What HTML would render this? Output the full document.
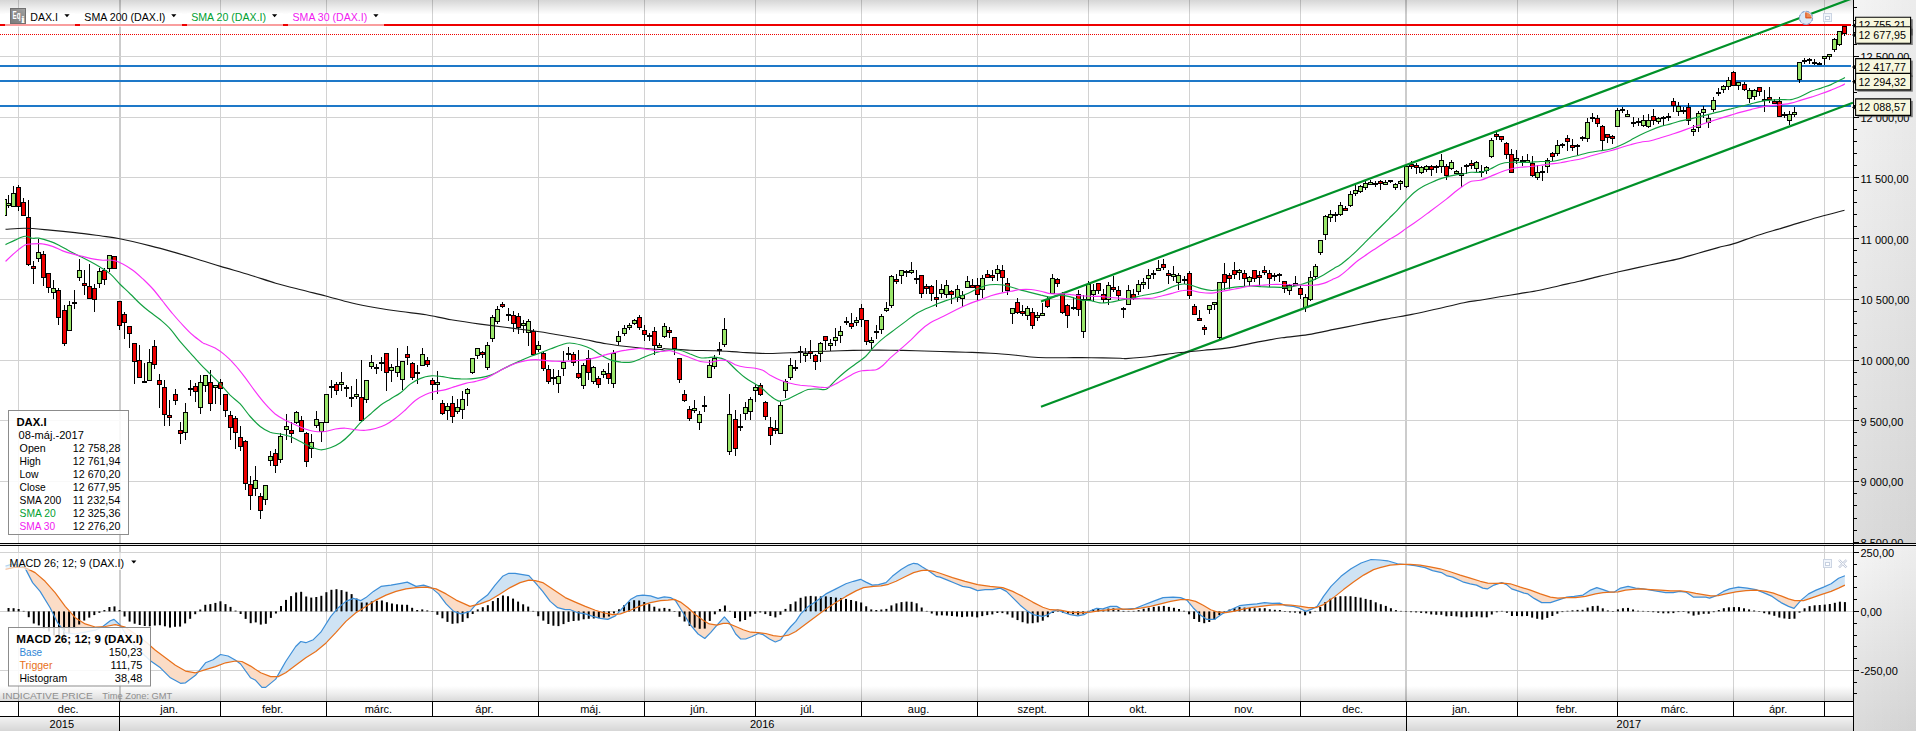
<!DOCTYPE html>
<html><head><meta charset="utf-8"><title>DAX.I</title>
<style>html,body{margin:0;padding:0;background:#fff;overflow:hidden}svg{display:block}</style></head>
<body>
<svg width="1916" height="731" viewBox="0 0 1916 731" font-family='"Liberation Sans", sans-serif' font-size="11">
<defs>
<linearGradient id="gtop" x1="0" y1="0" x2="0" y2="1"><stop offset="0" stop-color="#d6d6d6"/><stop offset="0.45" stop-color="#e9e9e9"/><stop offset="1" stop-color="#ffffff"/></linearGradient>
<linearGradient id="gbot" x1="0" y1="0" x2="0" y2="1"><stop offset="0" stop-color="#ffffff"/><stop offset="0.5" stop-color="#eeeeee"/><stop offset="1" stop-color="#dadada"/></linearGradient>
<linearGradient id="gyr" x1="0" y1="0" x2="0" y2="1"><stop offset="0" stop-color="#f2f2f2"/><stop offset="1" stop-color="#d6d6d6"/></linearGradient>
<linearGradient id="gax" x1="0" y1="0" x2="0" y2="1"><stop offset="0" stop-color="#f4f4f4"/><stop offset="0.3" stop-color="#efefef"/><stop offset="1" stop-color="#dcdcdc"/></linearGradient>
<linearGradient id="gax2" x1="0" y1="0" x2="0" y2="1"><stop offset="0" stop-color="#f6f6f6"/><stop offset="1" stop-color="#dadada"/></linearGradient>
<linearGradient id="gaxh" x1="0" y1="0" x2="1" y2="0"><stop offset="0" stop-color="#000" stop-opacity="0"/><stop offset="1" stop-color="#000" stop-opacity="0.035"/></linearGradient>
<clipPath id="cmain"><rect x="5" y="0" width="1848" height="543"/></clipPath>
<clipPath id="cmacd"><rect x="5" y="546" width="1848" height="155"/></clipPath>
</defs>
<rect x="0" y="0" width="1916" height="731" fill="#ffffff"/>
<rect x="0" y="0" width="1853" height="14.5" fill="url(#gtop)"/>
<rect x="0" y="686" width="1853" height="15" fill="url(#gbot)"/>
<rect x="1853" y="0" width="63" height="543" fill="url(#gax)"/>
<rect x="1853" y="546" width="63" height="185" fill="url(#gax2)"/>
<rect x="1853" y="0" width="63" height="731" fill="url(#gaxh)"/>
<g shape-rendering="crispEdges"><rect x="18" y="0" width="1" height="701" fill="#000" fill-opacity="0.175"/><rect x="119" y="0" width="2" height="701" fill="#000" fill-opacity="0.2"/><rect x="220" y="0" width="1" height="701" fill="#000" fill-opacity="0.175"/><rect x="326" y="0" width="1" height="701" fill="#000" fill-opacity="0.175"/><rect x="432" y="0" width="1" height="701" fill="#000" fill-opacity="0.175"/><rect x="538" y="0" width="1" height="701" fill="#000" fill-opacity="0.175"/><rect x="644" y="0" width="1" height="701" fill="#000" fill-opacity="0.175"/><rect x="755" y="0" width="1" height="701" fill="#000" fill-opacity="0.175"/><rect x="861" y="0" width="1" height="701" fill="#000" fill-opacity="0.175"/><rect x="977" y="0" width="1" height="701" fill="#000" fill-opacity="0.175"/><rect x="1088" y="0" width="1" height="701" fill="#000" fill-opacity="0.175"/><rect x="1189" y="0" width="1" height="701" fill="#000" fill-opacity="0.175"/><rect x="1300" y="0" width="1" height="701" fill="#000" fill-opacity="0.175"/><rect x="1405" y="0" width="2" height="701" fill="#000" fill-opacity="0.2"/><rect x="1517" y="0" width="1" height="701" fill="#000" fill-opacity="0.175"/><rect x="1617" y="0" width="1" height="701" fill="#000" fill-opacity="0.175"/><rect x="1733" y="0" width="1" height="701" fill="#000" fill-opacity="0.175"/><rect x="1824" y="0" width="1" height="701" fill="#000" fill-opacity="0.175"/><rect x="0" y="56" width="1853" height="1" fill="#d2d2d2"/><rect x="0" y="117" width="1853" height="1" fill="#d2d2d2"/><rect x="0" y="177" width="1853" height="1" fill="#d2d2d2"/><rect x="0" y="238" width="1853" height="1" fill="#d2d2d2"/><rect x="0" y="299" width="1853" height="1" fill="#d2d2d2"/><rect x="0" y="360" width="1853" height="1" fill="#d2d2d2"/><rect x="0" y="420" width="1853" height="1" fill="#d2d2d2"/><rect x="0" y="481" width="1853" height="1" fill="#d2d2d2"/><rect x="0" y="552" width="1853" height="1" fill="#d2d2d2"/><rect x="0" y="611" width="1853" height="1" fill="#d2d2d2"/><rect x="0" y="670" width="1853" height="1" fill="#d2d2d2"/></g>
<g shape-rendering="crispEdges">
<rect x="0" y="24" width="1851" height="2" fill="#ee0000"/>
<rect x="0" y="65" width="1851" height="2" fill="#1e78c8"/>
<rect x="0" y="80" width="1851" height="2" fill="#1e78c8"/>
<rect x="0" y="105" width="1851" height="2" fill="#1e78c8"/>
</g>
<line x1="0" y1="34.5" x2="1851" y2="34.5" stroke="#ee0000" stroke-width="1" stroke-dasharray="1 1" shape-rendering="crispEdges"/>
<g clip-path="url(#cmain)">
<g shape-rendering="crispEdges"><rect x="4" y="199" width="1" height="17" fill="#000"/><rect x="2" y="199" width="5" height="17" fill="#000"/><rect x="3" y="200" width="3" height="15" fill="#9ae66a"/><rect x="8" y="195" width="1" height="13" fill="#000"/><rect x="6" y="203" width="5" height="3" fill="#000"/><rect x="7" y="204" width="3" height="1" fill="#9ae66a"/><rect x="13" y="186" width="1" height="21" fill="#000"/><rect x="11" y="193" width="5" height="14" fill="#000"/><rect x="12" y="194" width="3" height="12" fill="#9ae66a"/><rect x="18" y="185" width="1" height="26" fill="#000"/><rect x="16" y="187" width="5" height="20" fill="#000"/><rect x="17" y="188" width="3" height="18" fill="#ee0000"/><rect x="23" y="198" width="1" height="18" fill="#000"/><rect x="21" y="202" width="5" height="14" fill="#000"/><rect x="22" y="203" width="3" height="12" fill="#ee0000"/><rect x="28" y="200" width="1" height="66" fill="#000"/><rect x="26" y="217" width="5" height="48" fill="#000"/><rect x="27" y="218" width="3" height="46" fill="#ee0000"/><rect x="33" y="261" width="1" height="23" fill="#000"/><rect x="31" y="266" width="5" height="3" fill="#000"/><rect x="32" y="267" width="3" height="1" fill="#ee0000"/><rect x="38" y="239" width="1" height="23" fill="#000"/><rect x="36" y="252" width="5" height="7" fill="#000"/><rect x="37" y="253" width="3" height="5" fill="#9ae66a"/><rect x="43" y="251" width="1" height="35" fill="#000"/><rect x="41" y="254" width="5" height="24" fill="#000"/><rect x="42" y="255" width="3" height="22" fill="#ee0000"/><rect x="48" y="273" width="1" height="20" fill="#000"/><rect x="46" y="273" width="5" height="15" fill="#000"/><rect x="47" y="274" width="3" height="13" fill="#ee0000"/><rect x="53" y="280" width="1" height="19" fill="#000"/><rect x="51" y="288" width="5" height="5" fill="#000"/><rect x="52" y="289" width="3" height="3" fill="#9ae66a"/><rect x="58" y="288" width="1" height="37" fill="#000"/><rect x="56" y="290" width="5" height="28" fill="#000"/><rect x="57" y="291" width="3" height="26" fill="#ee0000"/><rect x="64" y="305" width="1" height="41" fill="#000"/><rect x="62" y="310" width="5" height="34" fill="#000"/><rect x="63" y="311" width="3" height="32" fill="#ee0000"/><rect x="69" y="301" width="1" height="30" fill="#000"/><rect x="67" y="305" width="5" height="26" fill="#000"/><rect x="68" y="306" width="3" height="24" fill="#9ae66a"/><rect x="74" y="290" width="1" height="19" fill="#000"/><rect x="72" y="302" width="5" height="2" fill="#000"/><rect x="79" y="259" width="1" height="22" fill="#000"/><rect x="77" y="270" width="5" height="8" fill="#000"/><rect x="78" y="271" width="3" height="6" fill="#9ae66a"/><rect x="84" y="270" width="1" height="25" fill="#000"/><rect x="82" y="283" width="5" height="3" fill="#000"/><rect x="83" y="284" width="3" height="1" fill="#ee0000"/><rect x="89" y="264" width="1" height="35" fill="#000"/><rect x="87" y="286" width="5" height="13" fill="#000"/><rect x="88" y="287" width="3" height="11" fill="#ee0000"/><rect x="94" y="284" width="1" height="28" fill="#000"/><rect x="92" y="288" width="5" height="12" fill="#000"/><rect x="93" y="289" width="3" height="10" fill="#ee0000"/><rect x="99" y="268" width="1" height="20" fill="#000"/><rect x="97" y="271" width="5" height="13" fill="#000"/><rect x="98" y="272" width="3" height="11" fill="#9ae66a"/><rect x="104" y="268" width="1" height="17" fill="#000"/><rect x="102" y="270" width="5" height="10" fill="#000"/><rect x="103" y="271" width="3" height="8" fill="#ee0000"/><rect x="109" y="255" width="1" height="17" fill="#000"/><rect x="107" y="255" width="5" height="14" fill="#000"/><rect x="108" y="256" width="3" height="12" fill="#9ae66a"/><rect x="114" y="256" width="1" height="13" fill="#000"/><rect x="112" y="256" width="5" height="13" fill="#000"/><rect x="113" y="257" width="3" height="11" fill="#ee0000"/><rect x="119" y="301" width="1" height="29" fill="#000"/><rect x="117" y="301" width="5" height="25" fill="#000"/><rect x="118" y="302" width="3" height="23" fill="#ee0000"/><rect x="124" y="312" width="1" height="27" fill="#000"/><rect x="122" y="314" width="5" height="9" fill="#000"/><rect x="123" y="315" width="3" height="7" fill="#ee0000"/><rect x="129" y="326" width="1" height="22" fill="#000"/><rect x="127" y="326" width="5" height="8" fill="#000"/><rect x="128" y="327" width="3" height="6" fill="#ee0000"/><rect x="134" y="343" width="1" height="41" fill="#000"/><rect x="132" y="343" width="5" height="19" fill="#000"/><rect x="133" y="344" width="3" height="17" fill="#ee0000"/><rect x="139" y="345" width="1" height="33" fill="#000"/><rect x="137" y="360" width="5" height="18" fill="#000"/><rect x="138" y="361" width="3" height="16" fill="#ee0000"/><rect x="144" y="363" width="1" height="20" fill="#000"/><rect x="142" y="381" width="5" height="2" fill="#000"/><rect x="149" y="349" width="1" height="32" fill="#000"/><rect x="147" y="362" width="5" height="19" fill="#000"/><rect x="148" y="363" width="3" height="17" fill="#9ae66a"/><rect x="154" y="340" width="1" height="29" fill="#000"/><rect x="152" y="346" width="5" height="19" fill="#000"/><rect x="153" y="347" width="3" height="17" fill="#ee0000"/><rect x="159" y="374" width="1" height="34" fill="#000"/><rect x="157" y="380" width="5" height="5" fill="#000"/><rect x="158" y="381" width="3" height="3" fill="#ee0000"/><rect x="164" y="380" width="1" height="46" fill="#000"/><rect x="162" y="387" width="5" height="28" fill="#000"/><rect x="163" y="388" width="3" height="26" fill="#ee0000"/><rect x="169" y="400" width="1" height="26" fill="#000"/><rect x="167" y="415" width="5" height="3" fill="#000"/><rect x="168" y="416" width="3" height="1" fill="#ee0000"/><rect x="175" y="389" width="1" height="16" fill="#000"/><rect x="173" y="394" width="5" height="7" fill="#000"/><rect x="174" y="395" width="3" height="5" fill="#ee0000"/><rect x="180" y="422" width="1" height="22" fill="#000"/><rect x="178" y="430" width="5" height="4" fill="#000"/><rect x="179" y="431" width="3" height="2" fill="#ee0000"/><rect x="185" y="403" width="1" height="37" fill="#000"/><rect x="183" y="412" width="5" height="21" fill="#000"/><rect x="184" y="413" width="3" height="19" fill="#9ae66a"/><rect x="190" y="380" width="1" height="16" fill="#000"/><rect x="188" y="388" width="5" height="2" fill="#000"/><rect x="195" y="383" width="1" height="19" fill="#000"/><rect x="193" y="386" width="5" height="6" fill="#000"/><rect x="194" y="387" width="3" height="4" fill="#ee0000"/><rect x="200" y="375" width="1" height="39" fill="#000"/><rect x="198" y="382" width="5" height="26" fill="#000"/><rect x="199" y="383" width="3" height="24" fill="#9ae66a"/><rect x="205" y="375" width="1" height="17" fill="#000"/><rect x="203" y="375" width="5" height="11" fill="#000"/><rect x="204" y="376" width="3" height="9" fill="#9ae66a"/><rect x="210" y="370" width="1" height="41" fill="#000"/><rect x="208" y="382" width="5" height="22" fill="#000"/><rect x="209" y="383" width="3" height="20" fill="#ee0000"/><rect x="215" y="385" width="1" height="19" fill="#000"/><rect x="213" y="385" width="5" height="3" fill="#000"/><rect x="214" y="386" width="3" height="1" fill="#9ae66a"/><rect x="220" y="379" width="1" height="26" fill="#000"/><rect x="218" y="382" width="5" height="7" fill="#000"/><rect x="219" y="383" width="3" height="5" fill="#ee0000"/><rect x="225" y="394" width="1" height="23" fill="#000"/><rect x="223" y="394" width="5" height="17" fill="#000"/><rect x="224" y="395" width="3" height="15" fill="#ee0000"/><rect x="230" y="411" width="1" height="29" fill="#000"/><rect x="228" y="415" width="5" height="13" fill="#000"/><rect x="229" y="416" width="3" height="11" fill="#ee0000"/><rect x="235" y="416" width="1" height="33" fill="#000"/><rect x="233" y="418" width="5" height="15" fill="#000"/><rect x="234" y="419" width="3" height="13" fill="#ee0000"/><rect x="240" y="426" width="1" height="25" fill="#000"/><rect x="238" y="437" width="5" height="10" fill="#000"/><rect x="239" y="438" width="3" height="8" fill="#ee0000"/><rect x="245" y="440" width="1" height="50" fill="#000"/><rect x="243" y="441" width="5" height="43" fill="#000"/><rect x="244" y="442" width="3" height="41" fill="#ee0000"/><rect x="250" y="476" width="1" height="34" fill="#000"/><rect x="248" y="484" width="5" height="12" fill="#000"/><rect x="249" y="485" width="3" height="10" fill="#ee0000"/><rect x="255" y="466" width="1" height="30" fill="#000"/><rect x="253" y="480" width="5" height="9" fill="#000"/><rect x="254" y="481" width="3" height="7" fill="#9ae66a"/><rect x="260" y="493" width="1" height="26" fill="#000"/><rect x="258" y="496" width="5" height="15" fill="#000"/><rect x="259" y="497" width="3" height="13" fill="#ee0000"/><rect x="265" y="485" width="1" height="20" fill="#000"/><rect x="263" y="485" width="5" height="15" fill="#000"/><rect x="264" y="486" width="3" height="13" fill="#9ae66a"/><rect x="270" y="451" width="1" height="15" fill="#000"/><rect x="268" y="456" width="5" height="5" fill="#000"/><rect x="269" y="457" width="3" height="3" fill="#9ae66a"/><rect x="275" y="449" width="1" height="24" fill="#000"/><rect x="273" y="453" width="5" height="13" fill="#000"/><rect x="274" y="454" width="3" height="11" fill="#ee0000"/><rect x="280" y="433" width="1" height="30" fill="#000"/><rect x="278" y="436" width="5" height="24" fill="#000"/><rect x="279" y="437" width="3" height="22" fill="#9ae66a"/><rect x="286" y="414" width="1" height="26" fill="#000"/><rect x="284" y="426" width="5" height="4" fill="#000"/><rect x="285" y="427" width="3" height="2" fill="#9ae66a"/><rect x="291" y="422" width="1" height="21" fill="#000"/><rect x="289" y="430" width="5" height="4" fill="#000"/><rect x="290" y="431" width="3" height="2" fill="#ee0000"/><rect x="296" y="411" width="1" height="13" fill="#000"/><rect x="294" y="412" width="5" height="11" fill="#000"/><rect x="295" y="413" width="3" height="9" fill="#9ae66a"/><rect x="301" y="416" width="1" height="16" fill="#000"/><rect x="299" y="420" width="5" height="12" fill="#000"/><rect x="300" y="421" width="3" height="10" fill="#ee0000"/><rect x="306" y="432" width="1" height="35" fill="#000"/><rect x="304" y="433" width="5" height="29" fill="#000"/><rect x="305" y="434" width="3" height="27" fill="#ee0000"/><rect x="311" y="434" width="1" height="24" fill="#000"/><rect x="309" y="442" width="5" height="7" fill="#000"/><rect x="310" y="443" width="3" height="5" fill="#9ae66a"/><rect x="316" y="411" width="1" height="17" fill="#000"/><rect x="314" y="419" width="5" height="7" fill="#000"/><rect x="315" y="420" width="3" height="5" fill="#9ae66a"/><rect x="321" y="422" width="1" height="20" fill="#000"/><rect x="319" y="422" width="5" height="10" fill="#000"/><rect x="320" y="423" width="3" height="8" fill="#9ae66a"/><rect x="326" y="394" width="1" height="29" fill="#000"/><rect x="324" y="394" width="5" height="29" fill="#000"/><rect x="325" y="395" width="3" height="27" fill="#9ae66a"/><rect x="331" y="380" width="1" height="18" fill="#000"/><rect x="329" y="386" width="5" height="2" fill="#000"/><rect x="336" y="382" width="1" height="13" fill="#000"/><rect x="334" y="384" width="5" height="7" fill="#000"/><rect x="335" y="385" width="3" height="5" fill="#ee0000"/><rect x="341" y="372" width="1" height="19" fill="#000"/><rect x="339" y="382" width="5" height="3" fill="#000"/><rect x="340" y="383" width="3" height="1" fill="#9ae66a"/><rect x="346" y="385" width="1" height="12" fill="#000"/><rect x="344" y="387" width="5" height="2" fill="#000"/><rect x="351" y="386" width="1" height="21" fill="#000"/><rect x="349" y="397" width="5" height="2" fill="#000"/><rect x="356" y="379" width="1" height="20" fill="#000"/><rect x="354" y="394" width="5" height="3" fill="#000"/><rect x="355" y="395" width="3" height="1" fill="#9ae66a"/><rect x="361" y="360" width="1" height="61" fill="#000"/><rect x="359" y="397" width="5" height="24" fill="#000"/><rect x="360" y="398" width="3" height="22" fill="#ee0000"/><rect x="366" y="380" width="1" height="23" fill="#000"/><rect x="364" y="380" width="5" height="20" fill="#000"/><rect x="365" y="381" width="3" height="18" fill="#9ae66a"/><rect x="371" y="355" width="1" height="14" fill="#000"/><rect x="369" y="362" width="5" height="5" fill="#000"/><rect x="370" y="363" width="3" height="3" fill="#9ae66a"/><rect x="376" y="364" width="1" height="10" fill="#000"/><rect x="374" y="367" width="5" height="2" fill="#000"/><rect x="381" y="357" width="1" height="14" fill="#000"/><rect x="379" y="362" width="5" height="2" fill="#000"/><rect x="386" y="353" width="1" height="38" fill="#000"/><rect x="384" y="353" width="5" height="20" fill="#000"/><rect x="385" y="354" width="3" height="18" fill="#ee0000"/><rect x="391" y="364" width="1" height="18" fill="#000"/><rect x="389" y="367" width="5" height="4" fill="#000"/><rect x="390" y="368" width="3" height="2" fill="#9ae66a"/><rect x="397" y="348" width="1" height="29" fill="#000"/><rect x="395" y="366" width="5" height="7" fill="#000"/><rect x="396" y="367" width="3" height="5" fill="#9ae66a"/><rect x="402" y="361" width="1" height="29" fill="#000"/><rect x="400" y="361" width="5" height="19" fill="#000"/><rect x="401" y="362" width="3" height="17" fill="#9ae66a"/><rect x="407" y="346" width="1" height="19" fill="#000"/><rect x="405" y="354" width="5" height="4" fill="#000"/><rect x="406" y="355" width="3" height="2" fill="#ee0000"/><rect x="412" y="362" width="1" height="18" fill="#000"/><rect x="410" y="363" width="5" height="15" fill="#000"/><rect x="411" y="364" width="3" height="13" fill="#ee0000"/><rect x="417" y="365" width="1" height="19" fill="#000"/><rect x="415" y="372" width="5" height="2" fill="#000"/><rect x="422" y="348" width="1" height="18" fill="#000"/><rect x="420" y="354" width="5" height="12" fill="#000"/><rect x="421" y="355" width="3" height="10" fill="#9ae66a"/><rect x="427" y="357" width="1" height="10" fill="#000"/><rect x="425" y="360" width="5" height="5" fill="#000"/><rect x="426" y="361" width="3" height="3" fill="#ee0000"/><rect x="432" y="378" width="1" height="22" fill="#000"/><rect x="430" y="380" width="5" height="5" fill="#000"/><rect x="431" y="381" width="3" height="3" fill="#ee0000"/><rect x="437" y="371" width="1" height="23" fill="#000"/><rect x="435" y="382" width="5" height="3" fill="#000"/><rect x="436" y="383" width="3" height="1" fill="#9ae66a"/><rect x="442" y="400" width="1" height="15" fill="#000"/><rect x="440" y="403" width="5" height="11" fill="#000"/><rect x="441" y="404" width="3" height="9" fill="#ee0000"/><rect x="447" y="403" width="1" height="17" fill="#000"/><rect x="445" y="406" width="5" height="5" fill="#000"/><rect x="446" y="407" width="3" height="3" fill="#9ae66a"/><rect x="452" y="396" width="1" height="27" fill="#000"/><rect x="450" y="403" width="5" height="14" fill="#000"/><rect x="451" y="404" width="3" height="12" fill="#ee0000"/><rect x="457" y="399" width="1" height="15" fill="#000"/><rect x="455" y="407" width="5" height="5" fill="#000"/><rect x="456" y="408" width="3" height="3" fill="#9ae66a"/><rect x="462" y="391" width="1" height="28" fill="#000"/><rect x="460" y="399" width="5" height="11" fill="#000"/><rect x="461" y="400" width="3" height="9" fill="#9ae66a"/><rect x="467" y="388" width="1" height="18" fill="#000"/><rect x="465" y="389" width="5" height="5" fill="#000"/><rect x="466" y="390" width="3" height="3" fill="#9ae66a"/><rect x="472" y="358" width="1" height="16" fill="#000"/><rect x="470" y="358" width="5" height="15" fill="#000"/><rect x="471" y="359" width="3" height="13" fill="#9ae66a"/><rect x="477" y="348" width="1" height="11" fill="#000"/><rect x="475" y="348" width="5" height="8" fill="#000"/><rect x="476" y="349" width="3" height="6" fill="#9ae66a"/><rect x="482" y="351" width="1" height="7" fill="#000"/><rect x="480" y="352" width="5" height="3" fill="#000"/><rect x="481" y="353" width="3" height="1" fill="#ee0000"/><rect x="487" y="342" width="1" height="28" fill="#000"/><rect x="485" y="345" width="5" height="23" fill="#000"/><rect x="486" y="346" width="3" height="21" fill="#9ae66a"/><rect x="492" y="315" width="1" height="27" fill="#000"/><rect x="490" y="317" width="5" height="22" fill="#000"/><rect x="491" y="318" width="3" height="20" fill="#9ae66a"/><rect x="497" y="306" width="1" height="18" fill="#000"/><rect x="495" y="309" width="5" height="13" fill="#000"/><rect x="496" y="310" width="3" height="11" fill="#9ae66a"/><rect x="502" y="302" width="1" height="6" fill="#000"/><rect x="500" y="304" width="5" height="3" fill="#000"/><rect x="501" y="305" width="3" height="1" fill="#ee0000"/><rect x="508" y="308" width="1" height="13" fill="#000"/><rect x="506" y="314" width="5" height="2" fill="#000"/><rect x="513" y="311" width="1" height="21" fill="#000"/><rect x="511" y="315" width="5" height="9" fill="#000"/><rect x="512" y="316" width="3" height="7" fill="#ee0000"/><rect x="518" y="313" width="1" height="21" fill="#000"/><rect x="516" y="316" width="5" height="12" fill="#000"/><rect x="517" y="317" width="3" height="10" fill="#ee0000"/><rect x="523" y="320" width="1" height="13" fill="#000"/><rect x="521" y="323" width="5" height="3" fill="#000"/><rect x="522" y="324" width="3" height="1" fill="#9ae66a"/><rect x="528" y="319" width="1" height="27" fill="#000"/><rect x="526" y="321" width="5" height="12" fill="#000"/><rect x="527" y="322" width="3" height="10" fill="#9ae66a"/><rect x="533" y="329" width="1" height="27" fill="#000"/><rect x="531" y="331" width="5" height="24" fill="#000"/><rect x="532" y="332" width="3" height="22" fill="#ee0000"/><rect x="538" y="341" width="1" height="11" fill="#000"/><rect x="536" y="345" width="5" height="5" fill="#000"/><rect x="537" y="346" width="3" height="3" fill="#9ae66a"/><rect x="543" y="352" width="1" height="19" fill="#000"/><rect x="541" y="353" width="5" height="16" fill="#000"/><rect x="542" y="354" width="3" height="14" fill="#ee0000"/><rect x="548" y="365" width="1" height="19" fill="#000"/><rect x="546" y="369" width="5" height="13" fill="#000"/><rect x="547" y="370" width="3" height="11" fill="#ee0000"/><rect x="553" y="369" width="1" height="16" fill="#000"/><rect x="551" y="377" width="5" height="2" fill="#000"/><rect x="558" y="370" width="1" height="23" fill="#000"/><rect x="556" y="376" width="5" height="8" fill="#000"/><rect x="557" y="377" width="3" height="6" fill="#9ae66a"/><rect x="563" y="351" width="1" height="25" fill="#000"/><rect x="561" y="362" width="5" height="7" fill="#000"/><rect x="562" y="363" width="3" height="5" fill="#9ae66a"/><rect x="568" y="347" width="1" height="13" fill="#000"/><rect x="566" y="353" width="5" height="2" fill="#000"/><rect x="573" y="352" width="1" height="14" fill="#000"/><rect x="571" y="354" width="5" height="9" fill="#000"/><rect x="572" y="355" width="3" height="7" fill="#ee0000"/><rect x="578" y="350" width="1" height="29" fill="#000"/><rect x="576" y="373" width="5" height="5" fill="#000"/><rect x="577" y="374" width="3" height="3" fill="#ee0000"/><rect x="583" y="363" width="1" height="26" fill="#000"/><rect x="581" y="365" width="5" height="21" fill="#000"/><rect x="582" y="366" width="3" height="19" fill="#9ae66a"/><rect x="588" y="350" width="1" height="30" fill="#000"/><rect x="586" y="358" width="5" height="15" fill="#000"/><rect x="587" y="359" width="3" height="13" fill="#ee0000"/><rect x="593" y="366" width="1" height="18" fill="#000"/><rect x="591" y="367" width="5" height="15" fill="#000"/><rect x="592" y="368" width="3" height="13" fill="#9ae66a"/><rect x="598" y="376" width="1" height="12" fill="#000"/><rect x="596" y="378" width="5" height="7" fill="#000"/><rect x="597" y="379" width="3" height="5" fill="#ee0000"/><rect x="603" y="369" width="1" height="9" fill="#000"/><rect x="601" y="371" width="5" height="4" fill="#000"/><rect x="602" y="372" width="3" height="2" fill="#9ae66a"/><rect x="608" y="363" width="1" height="21" fill="#000"/><rect x="606" y="373" width="5" height="6" fill="#000"/><rect x="607" y="374" width="3" height="4" fill="#ee0000"/><rect x="613" y="350" width="1" height="38" fill="#000"/><rect x="611" y="353" width="5" height="31" fill="#000"/><rect x="612" y="354" width="3" height="29" fill="#9ae66a"/><rect x="618" y="331" width="1" height="14" fill="#000"/><rect x="616" y="336" width="5" height="6" fill="#000"/><rect x="617" y="337" width="3" height="4" fill="#9ae66a"/><rect x="624" y="325" width="1" height="11" fill="#000"/><rect x="622" y="328" width="5" height="6" fill="#000"/><rect x="623" y="329" width="3" height="4" fill="#9ae66a"/><rect x="629" y="323" width="1" height="7" fill="#000"/><rect x="627" y="325" width="5" height="3" fill="#000"/><rect x="628" y="326" width="3" height="1" fill="#9ae66a"/><rect x="634" y="319" width="1" height="6" fill="#000"/><rect x="632" y="320" width="5" height="4" fill="#000"/><rect x="633" y="321" width="3" height="2" fill="#9ae66a"/><rect x="639" y="315" width="1" height="15" fill="#000"/><rect x="637" y="317" width="5" height="11" fill="#000"/><rect x="638" y="318" width="3" height="9" fill="#ee0000"/><rect x="644" y="325" width="1" height="16" fill="#000"/><rect x="642" y="330" width="5" height="5" fill="#000"/><rect x="643" y="331" width="3" height="3" fill="#ee0000"/><rect x="649" y="333" width="1" height="8" fill="#000"/><rect x="647" y="335" width="5" height="2" fill="#000"/><rect x="654" y="327" width="1" height="28" fill="#000"/><rect x="652" y="331" width="5" height="15" fill="#000"/><rect x="653" y="332" width="3" height="13" fill="#ee0000"/><rect x="659" y="343" width="1" height="5" fill="#000"/><rect x="657" y="345" width="5" height="3" fill="#000"/><rect x="658" y="346" width="3" height="1" fill="#9ae66a"/><rect x="664" y="323" width="1" height="15" fill="#000"/><rect x="662" y="326" width="5" height="11" fill="#000"/><rect x="663" y="327" width="3" height="9" fill="#9ae66a"/><rect x="669" y="327" width="1" height="11" fill="#000"/><rect x="667" y="330" width="5" height="3" fill="#000"/><rect x="668" y="331" width="3" height="1" fill="#ee0000"/><rect x="674" y="337" width="1" height="18" fill="#000"/><rect x="672" y="337" width="5" height="12" fill="#000"/><rect x="673" y="338" width="3" height="10" fill="#ee0000"/><rect x="679" y="358" width="1" height="25" fill="#000"/><rect x="677" y="358" width="5" height="22" fill="#000"/><rect x="678" y="359" width="3" height="20" fill="#ee0000"/><rect x="684" y="390" width="1" height="12" fill="#000"/><rect x="682" y="394" width="5" height="7" fill="#000"/><rect x="683" y="395" width="3" height="5" fill="#ee0000"/><rect x="689" y="406" width="1" height="15" fill="#000"/><rect x="687" y="409" width="5" height="10" fill="#000"/><rect x="688" y="410" width="3" height="8" fill="#ee0000"/><rect x="694" y="400" width="1" height="13" fill="#000"/><rect x="692" y="408" width="5" height="3" fill="#000"/><rect x="693" y="409" width="3" height="1" fill="#9ae66a"/><rect x="699" y="411" width="1" height="19" fill="#000"/><rect x="697" y="414" width="5" height="9" fill="#000"/><rect x="698" y="415" width="3" height="7" fill="#9ae66a"/><rect x="704" y="396" width="1" height="16" fill="#000"/><rect x="702" y="405" width="5" height="2" fill="#000"/><rect x="709" y="360" width="1" height="18" fill="#000"/><rect x="707" y="365" width="5" height="13" fill="#000"/><rect x="708" y="366" width="3" height="11" fill="#9ae66a"/><rect x="714" y="355" width="1" height="14" fill="#000"/><rect x="712" y="358" width="5" height="9" fill="#000"/><rect x="713" y="359" width="3" height="7" fill="#9ae66a"/><rect x="719" y="342" width="1" height="13" fill="#000"/><rect x="717" y="349" width="5" height="2" fill="#000"/><rect x="724" y="318" width="1" height="29" fill="#000"/><rect x="722" y="329" width="5" height="16" fill="#000"/><rect x="723" y="330" width="3" height="14" fill="#9ae66a"/><rect x="729" y="394" width="1" height="61" fill="#000"/><rect x="727" y="414" width="5" height="38" fill="#000"/><rect x="728" y="415" width="3" height="36" fill="#9ae66a"/><rect x="735" y="410" width="1" height="46" fill="#000"/><rect x="733" y="419" width="5" height="30" fill="#000"/><rect x="734" y="420" width="3" height="28" fill="#ee0000"/><rect x="740" y="414" width="1" height="17" fill="#000"/><rect x="738" y="426" width="5" height="2" fill="#000"/><rect x="745" y="402" width="1" height="18" fill="#000"/><rect x="743" y="407" width="5" height="7" fill="#000"/><rect x="744" y="408" width="3" height="5" fill="#9ae66a"/><rect x="750" y="397" width="1" height="23" fill="#000"/><rect x="748" y="399" width="5" height="13" fill="#000"/><rect x="749" y="400" width="3" height="11" fill="#9ae66a"/><rect x="755" y="384" width="1" height="18" fill="#000"/><rect x="753" y="387" width="5" height="4" fill="#000"/><rect x="754" y="388" width="3" height="2" fill="#9ae66a"/><rect x="760" y="383" width="1" height="13" fill="#000"/><rect x="758" y="385" width="5" height="10" fill="#000"/><rect x="759" y="386" width="3" height="8" fill="#ee0000"/><rect x="765" y="401" width="1" height="19" fill="#000"/><rect x="763" y="402" width="5" height="15" fill="#000"/><rect x="764" y="403" width="3" height="13" fill="#ee0000"/><rect x="770" y="417" width="1" height="28" fill="#000"/><rect x="768" y="427" width="5" height="9" fill="#000"/><rect x="769" y="428" width="3" height="7" fill="#ee0000"/><rect x="775" y="420" width="1" height="14" fill="#000"/><rect x="773" y="428" width="5" height="3" fill="#000"/><rect x="774" y="429" width="3" height="1" fill="#ee0000"/><rect x="780" y="402" width="1" height="32" fill="#000"/><rect x="778" y="405" width="5" height="29" fill="#000"/><rect x="779" y="406" width="3" height="27" fill="#9ae66a"/><rect x="785" y="379" width="1" height="19" fill="#000"/><rect x="783" y="381" width="5" height="10" fill="#000"/><rect x="784" y="382" width="3" height="8" fill="#9ae66a"/><rect x="790" y="358" width="1" height="22" fill="#000"/><rect x="788" y="365" width="5" height="13" fill="#000"/><rect x="789" y="366" width="3" height="11" fill="#9ae66a"/><rect x="795" y="360" width="1" height="11" fill="#000"/><rect x="793" y="367" width="5" height="2" fill="#000"/><rect x="800" y="346" width="1" height="17" fill="#000"/><rect x="798" y="351" width="5" height="2" fill="#000"/><rect x="805" y="348" width="1" height="14" fill="#000"/><rect x="803" y="353" width="5" height="3" fill="#000"/><rect x="804" y="354" width="3" height="1" fill="#9ae66a"/><rect x="810" y="340" width="1" height="19" fill="#000"/><rect x="808" y="351" width="5" height="3" fill="#000"/><rect x="809" y="352" width="3" height="1" fill="#ee0000"/><rect x="815" y="354" width="1" height="16" fill="#000"/><rect x="813" y="355" width="5" height="7" fill="#000"/><rect x="814" y="356" width="3" height="5" fill="#ee0000"/><rect x="820" y="342" width="1" height="20" fill="#000"/><rect x="818" y="343" width="5" height="11" fill="#000"/><rect x="819" y="344" width="3" height="9" fill="#9ae66a"/><rect x="825" y="336" width="1" height="14" fill="#000"/><rect x="823" y="336" width="5" height="5" fill="#000"/><rect x="824" y="337" width="3" height="3" fill="#ee0000"/><rect x="830" y="339" width="1" height="12" fill="#000"/><rect x="828" y="343" width="5" height="3" fill="#000"/><rect x="829" y="344" width="3" height="1" fill="#9ae66a"/><rect x="835" y="328" width="1" height="18" fill="#000"/><rect x="833" y="337" width="5" height="4" fill="#000"/><rect x="834" y="338" width="3" height="2" fill="#9ae66a"/><rect x="840" y="326" width="1" height="17" fill="#000"/><rect x="838" y="331" width="5" height="5" fill="#000"/><rect x="839" y="332" width="3" height="3" fill="#9ae66a"/><rect x="846" y="317" width="1" height="8" fill="#000"/><rect x="844" y="321" width="5" height="2" fill="#000"/><rect x="851" y="313" width="1" height="16" fill="#000"/><rect x="849" y="323" width="5" height="4" fill="#000"/><rect x="850" y="324" width="3" height="2" fill="#ee0000"/><rect x="856" y="317" width="1" height="9" fill="#000"/><rect x="854" y="320" width="5" height="3" fill="#000"/><rect x="855" y="321" width="3" height="1" fill="#9ae66a"/><rect x="861" y="304" width="1" height="23" fill="#000"/><rect x="859" y="308" width="5" height="12" fill="#000"/><rect x="860" y="309" width="3" height="10" fill="#ee0000"/><rect x="866" y="320" width="1" height="25" fill="#000"/><rect x="864" y="320" width="5" height="22" fill="#000"/><rect x="865" y="321" width="3" height="20" fill="#ee0000"/><rect x="871" y="337" width="1" height="13" fill="#000"/><rect x="869" y="340" width="5" height="3" fill="#000"/><rect x="870" y="341" width="3" height="1" fill="#9ae66a"/><rect x="876" y="325" width="1" height="14" fill="#000"/><rect x="874" y="331" width="5" height="2" fill="#000"/><rect x="881" y="314" width="1" height="20" fill="#000"/><rect x="879" y="316" width="5" height="14" fill="#000"/><rect x="880" y="317" width="3" height="12" fill="#9ae66a"/><rect x="886" y="302" width="1" height="10" fill="#000"/><rect x="884" y="308" width="5" height="3" fill="#000"/><rect x="885" y="309" width="3" height="1" fill="#9ae66a"/><rect x="891" y="275" width="1" height="33" fill="#000"/><rect x="889" y="276" width="5" height="30" fill="#000"/><rect x="890" y="277" width="3" height="28" fill="#9ae66a"/><rect x="896" y="274" width="1" height="10" fill="#000"/><rect x="894" y="279" width="5" height="3" fill="#000"/><rect x="895" y="280" width="3" height="1" fill="#ee0000"/><rect x="901" y="270" width="1" height="14" fill="#000"/><rect x="899" y="270" width="5" height="6" fill="#000"/><rect x="900" y="271" width="3" height="4" fill="#9ae66a"/><rect x="906" y="270" width="1" height="7" fill="#000"/><rect x="904" y="271" width="5" height="2" fill="#000"/><rect x="911" y="262" width="1" height="12" fill="#000"/><rect x="909" y="270" width="5" height="3" fill="#000"/><rect x="910" y="271" width="3" height="1" fill="#9ae66a"/><rect x="916" y="270" width="1" height="14" fill="#000"/><rect x="914" y="278" width="5" height="2" fill="#000"/><rect x="921" y="275" width="1" height="23" fill="#000"/><rect x="919" y="275" width="5" height="19" fill="#000"/><rect x="920" y="276" width="3" height="17" fill="#ee0000"/><rect x="926" y="284" width="1" height="10" fill="#000"/><rect x="924" y="286" width="5" height="3" fill="#000"/><rect x="925" y="287" width="3" height="1" fill="#ee0000"/><rect x="931" y="285" width="1" height="16" fill="#000"/><rect x="929" y="286" width="5" height="8" fill="#000"/><rect x="930" y="287" width="3" height="6" fill="#ee0000"/><rect x="936" y="280" width="1" height="27" fill="#000"/><rect x="934" y="297" width="5" height="3" fill="#000"/><rect x="935" y="298" width="3" height="1" fill="#ee0000"/><rect x="941" y="284" width="1" height="14" fill="#000"/><rect x="939" y="289" width="5" height="5" fill="#000"/><rect x="940" y="290" width="3" height="3" fill="#9ae66a"/><rect x="946" y="280" width="1" height="18" fill="#000"/><rect x="944" y="285" width="5" height="10" fill="#000"/><rect x="945" y="286" width="3" height="8" fill="#9ae66a"/><rect x="951" y="290" width="1" height="14" fill="#000"/><rect x="949" y="291" width="5" height="4" fill="#000"/><rect x="950" y="292" width="3" height="2" fill="#ee0000"/><rect x="957" y="285" width="1" height="17" fill="#000"/><rect x="955" y="289" width="5" height="9" fill="#000"/><rect x="956" y="290" width="3" height="7" fill="#9ae66a"/><rect x="962" y="291" width="1" height="16" fill="#000"/><rect x="960" y="295" width="5" height="4" fill="#000"/><rect x="961" y="296" width="3" height="2" fill="#9ae66a"/><rect x="967" y="276" width="1" height="12" fill="#000"/><rect x="965" y="281" width="5" height="7" fill="#000"/><rect x="966" y="282" width="3" height="5" fill="#9ae66a"/><rect x="972" y="279" width="1" height="9" fill="#000"/><rect x="970" y="285" width="5" height="3" fill="#000"/><rect x="971" y="286" width="3" height="1" fill="#ee0000"/><rect x="977" y="278" width="1" height="23" fill="#000"/><rect x="975" y="285" width="5" height="10" fill="#000"/><rect x="976" y="286" width="3" height="8" fill="#ee0000"/><rect x="982" y="275" width="1" height="23" fill="#000"/><rect x="980" y="278" width="5" height="12" fill="#000"/><rect x="981" y="279" width="3" height="10" fill="#9ae66a"/><rect x="987" y="270" width="1" height="8" fill="#000"/><rect x="985" y="274" width="5" height="4" fill="#000"/><rect x="986" y="275" width="3" height="2" fill="#ee0000"/><rect x="992" y="270" width="1" height="11" fill="#000"/><rect x="990" y="275" width="5" height="3" fill="#000"/><rect x="991" y="276" width="3" height="1" fill="#ee0000"/><rect x="997" y="265" width="1" height="16" fill="#000"/><rect x="995" y="269" width="5" height="5" fill="#000"/><rect x="996" y="270" width="3" height="3" fill="#9ae66a"/><rect x="1002" y="265" width="1" height="27" fill="#000"/><rect x="1000" y="270" width="5" height="8" fill="#000"/><rect x="1001" y="271" width="3" height="6" fill="#ee0000"/><rect x="1007" y="278" width="1" height="17" fill="#000"/><rect x="1005" y="283" width="5" height="8" fill="#000"/><rect x="1006" y="284" width="3" height="6" fill="#ee0000"/><rect x="1012" y="308" width="1" height="16" fill="#000"/><rect x="1010" y="308" width="5" height="6" fill="#000"/><rect x="1011" y="309" width="3" height="4" fill="#9ae66a"/><rect x="1017" y="298" width="1" height="16" fill="#000"/><rect x="1015" y="302" width="5" height="11" fill="#000"/><rect x="1016" y="303" width="3" height="9" fill="#ee0000"/><rect x="1022" y="305" width="1" height="11" fill="#000"/><rect x="1020" y="311" width="5" height="3" fill="#000"/><rect x="1021" y="312" width="3" height="1" fill="#ee0000"/><rect x="1027" y="306" width="1" height="14" fill="#000"/><rect x="1025" y="308" width="5" height="8" fill="#000"/><rect x="1026" y="309" width="3" height="6" fill="#9ae66a"/><rect x="1032" y="308" width="1" height="21" fill="#000"/><rect x="1030" y="312" width="5" height="14" fill="#000"/><rect x="1031" y="313" width="3" height="12" fill="#ee0000"/><rect x="1037" y="312" width="1" height="9" fill="#000"/><rect x="1035" y="315" width="5" height="3" fill="#000"/><rect x="1036" y="316" width="3" height="1" fill="#9ae66a"/><rect x="1042" y="303" width="1" height="13" fill="#000"/><rect x="1040" y="313" width="5" height="3" fill="#000"/><rect x="1041" y="314" width="3" height="1" fill="#9ae66a"/><rect x="1047" y="296" width="1" height="12" fill="#000"/><rect x="1045" y="299" width="5" height="8" fill="#000"/><rect x="1046" y="300" width="3" height="6" fill="#ee0000"/><rect x="1052" y="274" width="1" height="20" fill="#000"/><rect x="1050" y="278" width="5" height="16" fill="#000"/><rect x="1051" y="279" width="3" height="14" fill="#9ae66a"/><rect x="1057" y="278" width="1" height="9" fill="#000"/><rect x="1055" y="279" width="5" height="5" fill="#000"/><rect x="1056" y="280" width="3" height="3" fill="#ee0000"/><rect x="1062" y="292" width="1" height="22" fill="#000"/><rect x="1060" y="293" width="5" height="20" fill="#000"/><rect x="1061" y="294" width="3" height="18" fill="#ee0000"/><rect x="1067" y="304" width="1" height="24" fill="#000"/><rect x="1065" y="305" width="5" height="11" fill="#000"/><rect x="1066" y="306" width="3" height="9" fill="#ee0000"/><rect x="1073" y="297" width="1" height="13" fill="#000"/><rect x="1071" y="307" width="5" height="2" fill="#000"/><rect x="1078" y="290" width="1" height="26" fill="#000"/><rect x="1076" y="294" width="5" height="16" fill="#000"/><rect x="1077" y="295" width="3" height="14" fill="#ee0000"/><rect x="1083" y="295" width="1" height="43" fill="#000"/><rect x="1081" y="299" width="5" height="33" fill="#000"/><rect x="1082" y="300" width="3" height="31" fill="#9ae66a"/><rect x="1088" y="281" width="1" height="19" fill="#000"/><rect x="1086" y="284" width="5" height="16" fill="#000"/><rect x="1087" y="285" width="3" height="14" fill="#9ae66a"/><rect x="1093" y="284" width="1" height="17" fill="#000"/><rect x="1091" y="290" width="5" height="5" fill="#000"/><rect x="1092" y="291" width="3" height="3" fill="#9ae66a"/><rect x="1098" y="283" width="1" height="11" fill="#000"/><rect x="1096" y="283" width="5" height="8" fill="#000"/><rect x="1097" y="284" width="3" height="6" fill="#ee0000"/><rect x="1103" y="289" width="1" height="14" fill="#000"/><rect x="1101" y="294" width="5" height="6" fill="#000"/><rect x="1102" y="295" width="3" height="4" fill="#ee0000"/><rect x="1108" y="282" width="1" height="23" fill="#000"/><rect x="1106" y="285" width="5" height="15" fill="#000"/><rect x="1107" y="286" width="3" height="13" fill="#9ae66a"/><rect x="1113" y="276" width="1" height="16" fill="#000"/><rect x="1111" y="287" width="5" height="3" fill="#000"/><rect x="1112" y="288" width="3" height="1" fill="#ee0000"/><rect x="1118" y="286" width="1" height="14" fill="#000"/><rect x="1116" y="290" width="5" height="6" fill="#000"/><rect x="1117" y="291" width="3" height="4" fill="#ee0000"/><rect x="1123" y="307" width="1" height="11" fill="#000"/><rect x="1121" y="308" width="5" height="2" fill="#000"/><rect x="1128" y="285" width="1" height="20" fill="#000"/><rect x="1126" y="290" width="5" height="15" fill="#000"/><rect x="1127" y="291" width="3" height="13" fill="#9ae66a"/><rect x="1133" y="289" width="1" height="11" fill="#000"/><rect x="1131" y="294" width="5" height="5" fill="#000"/><rect x="1132" y="295" width="3" height="3" fill="#ee0000"/><rect x="1138" y="280" width="1" height="15" fill="#000"/><rect x="1136" y="284" width="5" height="8" fill="#000"/><rect x="1137" y="285" width="3" height="6" fill="#9ae66a"/><rect x="1143" y="278" width="1" height="11" fill="#000"/><rect x="1141" y="282" width="5" height="3" fill="#000"/><rect x="1142" y="283" width="3" height="1" fill="#9ae66a"/><rect x="1148" y="269" width="1" height="20" fill="#000"/><rect x="1146" y="275" width="5" height="4" fill="#000"/><rect x="1147" y="276" width="3" height="2" fill="#9ae66a"/><rect x="1153" y="270" width="1" height="9" fill="#000"/><rect x="1151" y="273" width="5" height="2" fill="#000"/><rect x="1158" y="260" width="1" height="11" fill="#000"/><rect x="1156" y="268" width="5" height="3" fill="#000"/><rect x="1157" y="269" width="3" height="1" fill="#9ae66a"/><rect x="1163" y="259" width="1" height="11" fill="#000"/><rect x="1161" y="264" width="5" height="4" fill="#000"/><rect x="1162" y="265" width="3" height="2" fill="#ee0000"/><rect x="1168" y="270" width="1" height="14" fill="#000"/><rect x="1166" y="273" width="5" height="3" fill="#000"/><rect x="1167" y="274" width="3" height="1" fill="#ee0000"/><rect x="1173" y="266" width="1" height="15" fill="#000"/><rect x="1171" y="274" width="5" height="3" fill="#000"/><rect x="1172" y="275" width="3" height="1" fill="#9ae66a"/><rect x="1178" y="273" width="1" height="17" fill="#000"/><rect x="1176" y="275" width="5" height="8" fill="#000"/><rect x="1177" y="276" width="3" height="6" fill="#9ae66a"/><rect x="1184" y="276" width="1" height="8" fill="#000"/><rect x="1182" y="279" width="5" height="2" fill="#000"/><rect x="1189" y="271" width="1" height="28" fill="#000"/><rect x="1187" y="273" width="5" height="23" fill="#000"/><rect x="1188" y="274" width="3" height="21" fill="#ee0000"/><rect x="1194" y="304" width="1" height="11" fill="#000"/><rect x="1192" y="306" width="5" height="9" fill="#000"/><rect x="1193" y="307" width="3" height="7" fill="#ee0000"/><rect x="1199" y="310" width="1" height="11" fill="#000"/><rect x="1197" y="318" width="5" height="3" fill="#000"/><rect x="1198" y="319" width="3" height="1" fill="#ee0000"/><rect x="1204" y="325" width="1" height="10" fill="#000"/><rect x="1202" y="327" width="5" height="3" fill="#000"/><rect x="1203" y="328" width="3" height="1" fill="#ee0000"/><rect x="1209" y="305" width="1" height="9" fill="#000"/><rect x="1207" y="305" width="5" height="5" fill="#000"/><rect x="1208" y="306" width="3" height="3" fill="#9ae66a"/><rect x="1214" y="302" width="1" height="8" fill="#000"/><rect x="1212" y="302" width="5" height="3" fill="#000"/><rect x="1213" y="303" width="3" height="1" fill="#9ae66a"/><rect x="1219" y="282" width="1" height="57" fill="#000"/><rect x="1217" y="282" width="5" height="56" fill="#000"/><rect x="1218" y="283" width="3" height="54" fill="#9ae66a"/><rect x="1224" y="263" width="1" height="27" fill="#000"/><rect x="1222" y="274" width="5" height="9" fill="#000"/><rect x="1223" y="275" width="3" height="7" fill="#ee0000"/><rect x="1229" y="273" width="1" height="16" fill="#000"/><rect x="1227" y="275" width="5" height="4" fill="#000"/><rect x="1228" y="276" width="3" height="2" fill="#ee0000"/><rect x="1234" y="262" width="1" height="17" fill="#000"/><rect x="1232" y="270" width="5" height="5" fill="#000"/><rect x="1233" y="271" width="3" height="3" fill="#ee0000"/><rect x="1239" y="269" width="1" height="11" fill="#000"/><rect x="1237" y="270" width="5" height="3" fill="#000"/><rect x="1238" y="271" width="3" height="1" fill="#9ae66a"/><rect x="1244" y="270" width="1" height="16" fill="#000"/><rect x="1242" y="273" width="5" height="6" fill="#000"/><rect x="1243" y="274" width="3" height="4" fill="#ee0000"/><rect x="1249" y="276" width="1" height="10" fill="#000"/><rect x="1247" y="277" width="5" height="5" fill="#000"/><rect x="1248" y="278" width="3" height="3" fill="#9ae66a"/><rect x="1254" y="270" width="1" height="12" fill="#000"/><rect x="1252" y="270" width="5" height="9" fill="#000"/><rect x="1253" y="271" width="3" height="7" fill="#ee0000"/><rect x="1259" y="271" width="1" height="16" fill="#000"/><rect x="1257" y="275" width="5" height="3" fill="#000"/><rect x="1258" y="276" width="3" height="1" fill="#ee0000"/><rect x="1264" y="266" width="1" height="9" fill="#000"/><rect x="1262" y="270" width="5" height="3" fill="#000"/><rect x="1263" y="271" width="3" height="1" fill="#ee0000"/><rect x="1269" y="270" width="1" height="17" fill="#000"/><rect x="1267" y="273" width="5" height="6" fill="#000"/><rect x="1268" y="274" width="3" height="4" fill="#ee0000"/><rect x="1274" y="273" width="1" height="8" fill="#000"/><rect x="1272" y="275" width="5" height="2" fill="#000"/><rect x="1279" y="273" width="1" height="9" fill="#000"/><rect x="1277" y="274" width="5" height="2" fill="#000"/><rect x="1284" y="281" width="1" height="12" fill="#000"/><rect x="1282" y="281" width="5" height="8" fill="#000"/><rect x="1283" y="282" width="3" height="6" fill="#ee0000"/><rect x="1289" y="284" width="1" height="11" fill="#000"/><rect x="1287" y="285" width="5" height="6" fill="#000"/><rect x="1288" y="286" width="3" height="4" fill="#9ae66a"/><rect x="1295" y="276" width="1" height="10" fill="#000"/><rect x="1293" y="283" width="5" height="3" fill="#000"/><rect x="1294" y="284" width="3" height="1" fill="#9ae66a"/><rect x="1300" y="285" width="1" height="14" fill="#000"/><rect x="1298" y="288" width="5" height="7" fill="#000"/><rect x="1299" y="289" width="3" height="5" fill="#ee0000"/><rect x="1305" y="294" width="1" height="18" fill="#000"/><rect x="1303" y="297" width="5" height="11" fill="#000"/><rect x="1304" y="298" width="3" height="9" fill="#9ae66a"/><rect x="1310" y="271" width="1" height="30" fill="#000"/><rect x="1308" y="277" width="5" height="23" fill="#000"/><rect x="1309" y="278" width="3" height="21" fill="#9ae66a"/><rect x="1315" y="264" width="1" height="16" fill="#000"/><rect x="1313" y="266" width="5" height="11" fill="#000"/><rect x="1314" y="267" width="3" height="9" fill="#9ae66a"/><rect x="1320" y="240" width="1" height="15" fill="#000"/><rect x="1318" y="240" width="5" height="13" fill="#000"/><rect x="1319" y="241" width="3" height="11" fill="#9ae66a"/><rect x="1325" y="215" width="1" height="25" fill="#000"/><rect x="1323" y="216" width="5" height="19" fill="#000"/><rect x="1324" y="217" width="3" height="17" fill="#9ae66a"/><rect x="1330" y="210" width="1" height="12" fill="#000"/><rect x="1328" y="214" width="5" height="4" fill="#000"/><rect x="1329" y="215" width="3" height="2" fill="#9ae66a"/><rect x="1335" y="212" width="1" height="10" fill="#000"/><rect x="1333" y="214" width="5" height="2" fill="#000"/><rect x="1340" y="202" width="1" height="14" fill="#000"/><rect x="1338" y="205" width="5" height="10" fill="#000"/><rect x="1339" y="206" width="3" height="8" fill="#9ae66a"/><rect x="1345" y="206" width="1" height="5" fill="#000"/><rect x="1343" y="208" width="5" height="3" fill="#000"/><rect x="1344" y="209" width="3" height="1" fill="#ee0000"/><rect x="1350" y="191" width="1" height="16" fill="#000"/><rect x="1348" y="194" width="5" height="12" fill="#000"/><rect x="1349" y="195" width="3" height="10" fill="#9ae66a"/><rect x="1355" y="185" width="1" height="11" fill="#000"/><rect x="1353" y="190" width="5" height="4" fill="#000"/><rect x="1354" y="191" width="3" height="2" fill="#9ae66a"/><rect x="1360" y="185" width="1" height="8" fill="#000"/><rect x="1358" y="186" width="5" height="6" fill="#000"/><rect x="1359" y="187" width="3" height="4" fill="#9ae66a"/><rect x="1365" y="181" width="1" height="9" fill="#000"/><rect x="1363" y="183" width="5" height="5" fill="#000"/><rect x="1364" y="184" width="3" height="3" fill="#9ae66a"/><rect x="1370" y="180" width="1" height="5" fill="#000"/><rect x="1368" y="182" width="5" height="3" fill="#000"/><rect x="1369" y="183" width="3" height="1" fill="#9ae66a"/><rect x="1375" y="181" width="1" height="6" fill="#000"/><rect x="1373" y="183" width="5" height="2" fill="#000"/><rect x="1380" y="180" width="1" height="10" fill="#000"/><rect x="1378" y="181" width="5" height="3" fill="#000"/><rect x="1379" y="182" width="3" height="1" fill="#ee0000"/><rect x="1385" y="180" width="1" height="5" fill="#000"/><rect x="1383" y="182" width="5" height="3" fill="#000"/><rect x="1384" y="183" width="3" height="1" fill="#9ae66a"/><rect x="1390" y="180" width="1" height="3" fill="#000"/><rect x="1388" y="180" width="5" height="2" fill="#000"/><rect x="1395" y="183" width="1" height="7" fill="#000"/><rect x="1393" y="184" width="5" height="4" fill="#000"/><rect x="1394" y="185" width="3" height="2" fill="#9ae66a"/><rect x="1400" y="180" width="1" height="10" fill="#000"/><rect x="1398" y="181" width="5" height="3" fill="#000"/><rect x="1399" y="182" width="3" height="1" fill="#9ae66a"/><rect x="1406" y="164" width="1" height="24" fill="#000"/><rect x="1404" y="166" width="5" height="21" fill="#000"/><rect x="1405" y="167" width="3" height="19" fill="#9ae66a"/><rect x="1411" y="161" width="1" height="8" fill="#000"/><rect x="1409" y="164" width="5" height="3" fill="#000"/><rect x="1410" y="165" width="3" height="1" fill="#ee0000"/><rect x="1416" y="163" width="1" height="11" fill="#000"/><rect x="1414" y="165" width="5" height="3" fill="#000"/><rect x="1415" y="166" width="3" height="1" fill="#ee0000"/><rect x="1421" y="166" width="1" height="8" fill="#000"/><rect x="1419" y="167" width="5" height="6" fill="#000"/><rect x="1420" y="168" width="3" height="4" fill="#9ae66a"/><rect x="1426" y="165" width="1" height="7" fill="#000"/><rect x="1424" y="166" width="5" height="4" fill="#000"/><rect x="1425" y="167" width="3" height="2" fill="#9ae66a"/><rect x="1431" y="165" width="1" height="11" fill="#000"/><rect x="1429" y="166" width="5" height="4" fill="#000"/><rect x="1430" y="167" width="3" height="2" fill="#ee0000"/><rect x="1436" y="165" width="1" height="8" fill="#000"/><rect x="1434" y="166" width="5" height="2" fill="#000"/><rect x="1441" y="154" width="1" height="19" fill="#000"/><rect x="1439" y="160" width="5" height="7" fill="#000"/><rect x="1440" y="161" width="3" height="5" fill="#9ae66a"/><rect x="1446" y="164" width="1" height="16" fill="#000"/><rect x="1444" y="166" width="5" height="10" fill="#000"/><rect x="1445" y="167" width="3" height="8" fill="#ee0000"/><rect x="1451" y="160" width="1" height="10" fill="#000"/><rect x="1449" y="162" width="5" height="7" fill="#000"/><rect x="1450" y="163" width="3" height="5" fill="#9ae66a"/><rect x="1456" y="170" width="1" height="4" fill="#000"/><rect x="1454" y="171" width="5" height="3" fill="#000"/><rect x="1455" y="172" width="3" height="1" fill="#9ae66a"/><rect x="1461" y="167" width="1" height="20" fill="#000"/><rect x="1459" y="173" width="5" height="3" fill="#000"/><rect x="1460" y="174" width="3" height="1" fill="#9ae66a"/><rect x="1466" y="164" width="1" height="10" fill="#000"/><rect x="1464" y="165" width="5" height="2" fill="#000"/><rect x="1471" y="160" width="1" height="9" fill="#000"/><rect x="1469" y="163" width="5" height="3" fill="#000"/><rect x="1470" y="164" width="3" height="1" fill="#ee0000"/><rect x="1476" y="161" width="1" height="11" fill="#000"/><rect x="1474" y="162" width="5" height="7" fill="#000"/><rect x="1475" y="163" width="3" height="5" fill="#9ae66a"/><rect x="1481" y="165" width="1" height="12" fill="#000"/><rect x="1479" y="171" width="5" height="2" fill="#000"/><rect x="1486" y="166" width="1" height="8" fill="#000"/><rect x="1484" y="167" width="5" height="4" fill="#000"/><rect x="1485" y="168" width="3" height="2" fill="#9ae66a"/><rect x="1491" y="138" width="1" height="20" fill="#000"/><rect x="1489" y="140" width="5" height="17" fill="#000"/><rect x="1490" y="141" width="3" height="15" fill="#9ae66a"/><rect x="1496" y="132" width="1" height="8" fill="#000"/><rect x="1494" y="134" width="5" height="3" fill="#000"/><rect x="1495" y="135" width="3" height="1" fill="#ee0000"/><rect x="1501" y="136" width="1" height="6" fill="#000"/><rect x="1499" y="136" width="5" height="4" fill="#000"/><rect x="1500" y="137" width="3" height="2" fill="#ee0000"/><rect x="1506" y="142" width="1" height="17" fill="#000"/><rect x="1504" y="143" width="5" height="12" fill="#000"/><rect x="1505" y="144" width="3" height="10" fill="#ee0000"/><rect x="1511" y="149" width="1" height="24" fill="#000"/><rect x="1509" y="154" width="5" height="19" fill="#000"/><rect x="1510" y="155" width="3" height="17" fill="#ee0000"/><rect x="1516" y="150" width="1" height="14" fill="#000"/><rect x="1514" y="158" width="5" height="3" fill="#000"/><rect x="1515" y="159" width="3" height="1" fill="#9ae66a"/><rect x="1522" y="156" width="1" height="10" fill="#000"/><rect x="1520" y="160" width="5" height="2" fill="#000"/><rect x="1527" y="154" width="1" height="9" fill="#000"/><rect x="1525" y="160" width="5" height="3" fill="#000"/><rect x="1526" y="161" width="3" height="1" fill="#9ae66a"/><rect x="1532" y="156" width="1" height="21" fill="#000"/><rect x="1530" y="163" width="5" height="13" fill="#000"/><rect x="1531" y="164" width="3" height="11" fill="#ee0000"/><rect x="1537" y="165" width="1" height="15" fill="#000"/><rect x="1535" y="172" width="5" height="6" fill="#000"/><rect x="1536" y="173" width="3" height="4" fill="#9ae66a"/><rect x="1542" y="166" width="1" height="15" fill="#000"/><rect x="1540" y="171" width="5" height="2" fill="#000"/><rect x="1547" y="158" width="1" height="15" fill="#000"/><rect x="1545" y="160" width="5" height="7" fill="#000"/><rect x="1546" y="161" width="3" height="5" fill="#9ae66a"/><rect x="1552" y="152" width="1" height="9" fill="#000"/><rect x="1550" y="153" width="5" height="4" fill="#000"/><rect x="1551" y="154" width="3" height="2" fill="#ee0000"/><rect x="1557" y="140" width="1" height="16" fill="#000"/><rect x="1555" y="145" width="5" height="9" fill="#000"/><rect x="1556" y="146" width="3" height="7" fill="#9ae66a"/><rect x="1562" y="143" width="1" height="5" fill="#000"/><rect x="1560" y="144" width="5" height="2" fill="#000"/><rect x="1567" y="135" width="1" height="16" fill="#000"/><rect x="1565" y="138" width="5" height="4" fill="#000"/><rect x="1566" y="139" width="3" height="2" fill="#ee0000"/><rect x="1572" y="139" width="1" height="12" fill="#000"/><rect x="1570" y="145" width="5" height="3" fill="#000"/><rect x="1571" y="146" width="3" height="1" fill="#ee0000"/><rect x="1577" y="144" width="1" height="11" fill="#000"/><rect x="1575" y="145" width="5" height="2" fill="#000"/><rect x="1582" y="136" width="1" height="5" fill="#000"/><rect x="1580" y="137" width="5" height="2" fill="#000"/><rect x="1587" y="118" width="1" height="24" fill="#000"/><rect x="1585" y="122" width="5" height="17" fill="#000"/><rect x="1586" y="123" width="3" height="15" fill="#9ae66a"/><rect x="1592" y="113" width="1" height="9" fill="#000"/><rect x="1590" y="117" width="5" height="2" fill="#000"/><rect x="1597" y="115" width="1" height="12" fill="#000"/><rect x="1595" y="118" width="5" height="6" fill="#000"/><rect x="1596" y="119" width="3" height="4" fill="#ee0000"/><rect x="1602" y="125" width="1" height="25" fill="#000"/><rect x="1600" y="126" width="5" height="15" fill="#000"/><rect x="1601" y="127" width="3" height="13" fill="#ee0000"/><rect x="1607" y="134" width="1" height="9" fill="#000"/><rect x="1605" y="134" width="5" height="4" fill="#000"/><rect x="1606" y="135" width="3" height="2" fill="#ee0000"/><rect x="1612" y="135" width="1" height="9" fill="#000"/><rect x="1610" y="136" width="5" height="3" fill="#000"/><rect x="1611" y="137" width="3" height="1" fill="#ee0000"/><rect x="1617" y="108" width="1" height="19" fill="#000"/><rect x="1615" y="110" width="5" height="17" fill="#000"/><rect x="1616" y="111" width="3" height="15" fill="#9ae66a"/><rect x="1622" y="107" width="1" height="6" fill="#000"/><rect x="1620" y="109" width="5" height="2" fill="#000"/><rect x="1627" y="110" width="1" height="7" fill="#000"/><rect x="1625" y="114" width="5" height="3" fill="#000"/><rect x="1626" y="115" width="3" height="1" fill="#9ae66a"/><rect x="1633" y="117" width="1" height="10" fill="#000"/><rect x="1631" y="122" width="5" height="2" fill="#000"/><rect x="1638" y="118" width="1" height="8" fill="#000"/><rect x="1636" y="121" width="5" height="2" fill="#000"/><rect x="1643" y="115" width="1" height="12" fill="#000"/><rect x="1641" y="120" width="5" height="6" fill="#000"/><rect x="1642" y="121" width="3" height="4" fill="#9ae66a"/><rect x="1648" y="114" width="1" height="14" fill="#000"/><rect x="1646" y="120" width="5" height="7" fill="#000"/><rect x="1647" y="121" width="3" height="5" fill="#9ae66a"/><rect x="1653" y="109" width="1" height="16" fill="#000"/><rect x="1651" y="116" width="5" height="5" fill="#000"/><rect x="1652" y="117" width="3" height="3" fill="#ee0000"/><rect x="1658" y="117" width="1" height="7" fill="#000"/><rect x="1656" y="118" width="5" height="4" fill="#000"/><rect x="1657" y="119" width="3" height="2" fill="#9ae66a"/><rect x="1663" y="116" width="1" height="10" fill="#000"/><rect x="1661" y="117" width="5" height="2" fill="#000"/><rect x="1668" y="113" width="1" height="8" fill="#000"/><rect x="1666" y="116" width="5" height="2" fill="#000"/><rect x="1673" y="98" width="1" height="14" fill="#000"/><rect x="1671" y="101" width="5" height="5" fill="#000"/><rect x="1672" y="102" width="3" height="3" fill="#ee0000"/><rect x="1678" y="102" width="1" height="14" fill="#000"/><rect x="1676" y="106" width="5" height="6" fill="#000"/><rect x="1677" y="107" width="3" height="4" fill="#9ae66a"/><rect x="1683" y="107" width="1" height="7" fill="#000"/><rect x="1681" y="110" width="5" height="2" fill="#000"/><rect x="1688" y="103" width="1" height="22" fill="#000"/><rect x="1686" y="107" width="5" height="14" fill="#000"/><rect x="1687" y="108" width="3" height="12" fill="#ee0000"/><rect x="1693" y="125" width="1" height="11" fill="#000"/><rect x="1691" y="129" width="5" height="3" fill="#000"/><rect x="1692" y="130" width="3" height="1" fill="#9ae66a"/><rect x="1698" y="111" width="1" height="21" fill="#000"/><rect x="1696" y="113" width="5" height="15" fill="#000"/><rect x="1697" y="114" width="3" height="13" fill="#9ae66a"/><rect x="1703" y="106" width="1" height="12" fill="#000"/><rect x="1701" y="109" width="5" height="4" fill="#000"/><rect x="1702" y="110" width="3" height="2" fill="#9ae66a"/><rect x="1708" y="114" width="1" height="14" fill="#000"/><rect x="1706" y="118" width="5" height="5" fill="#000"/><rect x="1707" y="119" width="3" height="3" fill="#9ae66a"/><rect x="1713" y="97" width="1" height="15" fill="#000"/><rect x="1711" y="100" width="5" height="10" fill="#000"/><rect x="1712" y="101" width="3" height="8" fill="#9ae66a"/><rect x="1718" y="88" width="1" height="8" fill="#000"/><rect x="1716" y="92" width="5" height="2" fill="#000"/><rect x="1723" y="85" width="1" height="8" fill="#000"/><rect x="1721" y="86" width="5" height="4" fill="#000"/><rect x="1722" y="87" width="3" height="2" fill="#9ae66a"/><rect x="1728" y="77" width="1" height="13" fill="#000"/><rect x="1726" y="80" width="5" height="7" fill="#000"/><rect x="1727" y="81" width="3" height="5" fill="#9ae66a"/><rect x="1733" y="71" width="1" height="15" fill="#000"/><rect x="1731" y="72" width="5" height="14" fill="#000"/><rect x="1732" y="73" width="3" height="12" fill="#ee0000"/><rect x="1738" y="82" width="1" height="8" fill="#000"/><rect x="1736" y="82" width="5" height="4" fill="#000"/><rect x="1737" y="83" width="3" height="2" fill="#9ae66a"/><rect x="1744" y="82" width="1" height="9" fill="#000"/><rect x="1742" y="84" width="5" height="6" fill="#000"/><rect x="1743" y="85" width="3" height="4" fill="#ee0000"/><rect x="1749" y="88" width="1" height="15" fill="#000"/><rect x="1747" y="90" width="5" height="9" fill="#000"/><rect x="1748" y="91" width="3" height="7" fill="#9ae66a"/><rect x="1754" y="89" width="1" height="11" fill="#000"/><rect x="1752" y="90" width="5" height="7" fill="#000"/><rect x="1753" y="91" width="3" height="5" fill="#9ae66a"/><rect x="1759" y="87" width="1" height="9" fill="#000"/><rect x="1757" y="87" width="5" height="5" fill="#000"/><rect x="1758" y="88" width="3" height="3" fill="#ee0000"/><rect x="1764" y="90" width="1" height="22" fill="#000"/><rect x="1762" y="99" width="5" height="2" fill="#000"/><rect x="1769" y="87" width="1" height="16" fill="#000"/><rect x="1767" y="97" width="5" height="3" fill="#000"/><rect x="1768" y="98" width="3" height="1" fill="#ee0000"/><rect x="1774" y="99" width="1" height="5" fill="#000"/><rect x="1772" y="101" width="5" height="3" fill="#000"/><rect x="1773" y="102" width="3" height="1" fill="#ee0000"/><rect x="1779" y="97" width="1" height="20" fill="#000"/><rect x="1777" y="101" width="5" height="16" fill="#000"/><rect x="1778" y="102" width="3" height="14" fill="#ee0000"/><rect x="1784" y="112" width="1" height="6" fill="#000"/><rect x="1782" y="114" width="5" height="2" fill="#000"/><rect x="1789" y="111" width="1" height="14" fill="#000"/><rect x="1787" y="114" width="5" height="7" fill="#000"/><rect x="1788" y="115" width="3" height="5" fill="#9ae66a"/><rect x="1794" y="107" width="1" height="10" fill="#000"/><rect x="1792" y="112" width="5" height="3" fill="#000"/><rect x="1793" y="113" width="3" height="1" fill="#9ae66a"/><rect x="1799" y="62" width="1" height="21" fill="#000"/><rect x="1797" y="62" width="5" height="18" fill="#000"/><rect x="1798" y="63" width="3" height="16" fill="#9ae66a"/><rect x="1804" y="58" width="1" height="6" fill="#000"/><rect x="1802" y="60" width="5" height="2" fill="#000"/><rect x="1809" y="58" width="1" height="6" fill="#000"/><rect x="1807" y="59" width="5" height="2" fill="#000"/><rect x="1814" y="59" width="1" height="6" fill="#000"/><rect x="1812" y="62" width="5" height="2" fill="#000"/><rect x="1819" y="62" width="1" height="3" fill="#000"/><rect x="1817" y="63" width="5" height="2" fill="#000"/><rect x="1824" y="56" width="1" height="9" fill="#000"/><rect x="1822" y="56" width="5" height="3" fill="#000"/><rect x="1823" y="57" width="3" height="1" fill="#9ae66a"/><rect x="1829" y="54" width="1" height="6" fill="#000"/><rect x="1827" y="54" width="5" height="3" fill="#000"/><rect x="1828" y="55" width="3" height="1" fill="#9ae66a"/><rect x="1834" y="38" width="1" height="14" fill="#000"/><rect x="1832" y="39" width="5" height="11" fill="#000"/><rect x="1833" y="40" width="3" height="9" fill="#9ae66a"/><rect x="1839" y="31" width="1" height="15" fill="#000"/><rect x="1837" y="31" width="5" height="14" fill="#000"/><rect x="1838" y="32" width="3" height="12" fill="#9ae66a"/><rect x="1844" y="26" width="1" height="10" fill="#000"/><rect x="1842" y="26" width="5" height="8" fill="#000"/><rect x="1843" y="27" width="3" height="6" fill="#ee0000"/></g>
<line x1="1041" y1="301.5" x2="1853" y2="-1.9" stroke="#009128" stroke-width="2.2" stroke-linecap="butt"/>
<line x1="1041" y1="406.8" x2="1853" y2="102.7" stroke="#009128" stroke-width="2.2" stroke-linecap="butt"/>
<path d="M5.5 229.3C8.8 229.2 17.6 228.2 25.1 228.3C32.5 228.4 41.8 229.4 50.1 230.1C58.5 230.8 66.8 231.6 75.2 232.6C83.5 233.5 92.8 234.8 100.3 235.8C107.7 236.9 111.4 237.2 119.8 238.8C128.2 240.5 141.1 243.6 150.4 245.9C159.6 248.2 167.1 250.3 175.4 252.6C183.8 255.0 193.0 257.9 200.5 260.2C208.0 262.4 212.2 263.9 220.6 266.4C228.9 268.9 241.4 272.4 250.6 275.2C259.8 278.0 267.3 280.8 275.7 283.2C284.0 285.6 292.4 287.6 300.8 289.7C309.1 291.9 317.5 293.8 325.8 296.0C334.2 298.2 342.5 300.8 350.9 302.8C359.2 304.7 367.6 306.3 375.9 307.8C384.3 309.2 392.6 310.4 401.0 311.5C409.4 312.7 417.7 313.4 426.1 314.8C434.4 316.2 442.1 318.3 451.1 319.8C460.2 321.3 466.1 322.2 480.2 324.1C494.3 326.0 523.3 329.5 535.9 331.3C548.5 333.0 548.4 333.3 555.9 334.5C563.5 335.8 572.6 337.2 581.0 338.8C589.4 340.3 597.7 342.4 606.1 343.8C614.4 345.2 622.1 346.1 631.1 347.0C640.2 348.0 654.5 349.3 660.2 349.5C665.9 349.8 660.1 348.6 665.1 348.7C670.1 348.8 681.8 349.9 690.1 350.2C698.5 350.5 706.8 350.4 715.2 350.7C723.5 351.0 731.9 351.7 740.3 352.2C748.6 352.7 757.0 353.4 765.3 353.5C773.7 353.5 782.0 353.0 790.4 352.7C798.7 352.4 807.1 351.8 815.4 351.5C823.8 351.1 832.1 350.9 840.5 350.7C848.9 350.5 857.2 350.3 865.6 350.2C873.9 350.1 882.3 350.1 890.6 350.2C899.0 350.3 907.3 350.5 915.7 350.7C924.0 350.9 932.4 351.2 940.8 351.5C949.1 351.7 957.5 351.9 965.8 352.2C974.2 352.5 982.5 352.7 990.9 353.2C999.2 353.7 1009.3 354.6 1015.9 355.2C1022.6 355.8 1026.0 356.5 1031.0 357.0C1036.0 357.4 1040.2 357.6 1046.0 357.7C1051.9 357.8 1058.5 357.7 1066.1 357.7C1073.6 357.7 1082.1 357.6 1091.1 357.7C1100.2 357.8 1114.4 358.1 1120.2 358.2C1126.0 358.4 1120.7 358.9 1126.0 358.6C1131.3 358.2 1143.3 357.2 1152.0 356.2C1160.6 355.3 1169.3 353.8 1178.0 352.8C1186.6 351.8 1195.3 351.1 1204.0 350.2C1212.6 349.4 1221.3 348.9 1230.0 347.6C1238.6 346.3 1247.3 344.1 1255.9 342.4C1264.6 340.8 1273.3 339.1 1281.9 337.8C1290.6 336.5 1299.3 336.0 1307.9 334.6C1316.6 333.3 1325.3 331.2 1333.9 329.4C1342.6 327.7 1351.2 326.0 1359.9 324.2C1368.6 322.5 1377.2 320.7 1385.9 319.1C1394.6 317.4 1403.2 316.1 1411.9 314.4C1420.6 312.6 1429.2 310.6 1437.9 308.7C1446.5 306.7 1456.9 304.1 1463.9 302.7C1470.9 301.3 1474.0 301.1 1480.0 300.2C1486.0 299.2 1493.2 297.9 1499.8 296.8C1506.4 295.7 1513.1 294.7 1519.7 293.6C1526.3 292.5 1532.9 291.6 1539.5 290.2C1546.1 288.9 1552.7 287.2 1559.3 285.7C1565.9 284.2 1572.6 282.9 1579.2 281.3C1585.8 279.8 1592.4 277.9 1599.0 276.4C1605.6 274.8 1612.2 273.3 1618.8 271.8C1625.4 270.3 1632.1 268.9 1638.7 267.4C1645.3 266.0 1651.9 264.5 1658.5 263.1C1665.1 261.6 1671.7 260.6 1678.3 258.9C1684.9 257.3 1691.6 255.0 1698.2 253.2C1704.8 251.3 1712.1 249.2 1718.0 247.6C1724.0 246.0 1727.9 245.5 1733.9 243.6C1739.8 241.8 1746.4 239.1 1753.7 236.7C1761.0 234.3 1770.2 231.6 1777.5 229.4C1784.8 227.1 1790.7 225.4 1797.3 223.4C1803.9 221.4 1810.6 219.3 1817.2 217.5C1823.8 215.6 1832.4 213.5 1837.0 212.3C1841.6 211.1 1843.3 210.6 1844.5 210.3" fill="none" stroke="#1a1a1a" stroke-width="1.15" stroke-linejoin="round"/>
<path d="M5.5 244.6C7.1 243.9 11.8 241.5 15.0 240.1C18.3 238.7 22.1 236.6 25.1 236.3C28.0 236.0 30.3 238.1 32.6 238.3C34.9 238.6 35.9 237.6 38.8 238.1C41.8 238.6 46.6 240.1 50.1 241.4C53.7 242.6 56.8 244.2 60.2 245.9C63.5 247.5 66.8 249.6 70.2 251.4C73.5 253.1 76.9 254.7 80.2 256.4C83.5 258.1 86.9 259.6 90.2 261.4C93.6 263.2 96.9 265.1 100.3 267.2C103.6 269.3 107.0 271.1 110.3 273.9C113.5 276.7 116.5 280.6 119.8 284.0C123.1 287.3 126.9 290.6 130.3 294.0C133.8 297.3 137.0 301.0 140.4 304.0C143.7 307.1 147.0 309.6 150.4 312.3C153.7 314.9 157.1 317.0 160.4 319.8C163.7 322.6 167.2 325.5 170.4 329.1C173.7 332.7 176.7 337.4 180.0 341.3C183.3 345.2 186.7 348.8 190.0 352.6C193.4 356.3 196.7 360.3 200.1 363.8C203.4 367.4 206.7 370.5 210.1 373.9C213.4 377.2 216.8 380.3 220.1 383.9C223.4 387.4 226.8 391.8 230.1 395.2C233.5 398.5 236.8 400.4 240.2 403.9C243.5 407.5 246.8 412.7 250.2 416.5C253.5 420.2 256.9 423.9 260.2 426.5C263.5 429.1 266.9 431.0 270.2 432.3C273.6 433.5 276.9 433.3 280.3 434.0C283.6 434.7 286.9 435.3 290.3 436.5C293.6 437.8 297.0 439.9 300.3 441.5C303.6 443.2 307.0 445.2 310.3 446.5C313.7 447.9 317.0 449.6 320.4 449.8C323.7 450.0 327.0 449.0 330.4 447.8C333.7 446.6 337.1 445.1 340.4 442.8C343.7 440.5 347.1 437.4 350.4 434.0C353.8 430.7 357.1 426.1 360.5 422.7C363.8 419.4 367.1 416.9 370.5 414.0C373.8 411.0 377.2 407.7 380.5 405.2C383.8 402.7 387.2 401.0 390.5 398.9C393.9 396.8 397.2 395.2 400.6 392.7C403.9 390.2 407.2 386.3 410.6 383.9C413.9 381.5 417.3 379.7 420.6 378.4C423.9 377.0 427.3 376.2 430.6 375.9C434.0 375.5 437.3 376.0 440.7 376.4C444.0 376.7 447.3 377.7 450.7 378.1C454.0 378.5 457.4 378.7 460.7 378.9C464.0 379.0 467.4 379.1 470.7 378.9C474.1 378.7 477.4 378.2 480.8 377.6C484.1 377.0 487.4 376.4 490.8 375.1C494.1 373.9 497.5 371.8 500.8 370.1C504.1 368.4 507.5 366.7 510.8 365.1C514.2 363.5 517.5 362.0 520.9 360.6C524.2 359.1 527.5 357.7 530.9 356.3C534.2 355.0 537.6 353.8 540.9 352.6C544.2 351.3 547.6 350.1 550.9 348.8C554.3 347.5 557.8 346.0 561.0 345.0C564.1 344.1 566.4 343.0 569.7 343.0C573.1 343.0 577.5 344.1 581.0 345.0C584.6 346.0 587.7 347.1 591.0 348.8C594.4 350.5 597.7 353.2 601.1 355.1C604.4 356.9 607.7 358.9 611.1 360.1C614.4 361.2 617.8 361.7 621.1 362.1C624.4 362.4 628.0 362.6 631.1 362.1C634.3 361.6 636.9 360.2 640.0 359.0C643.1 357.7 646.7 356.0 650.0 354.7C653.4 353.5 656.7 352.3 660.1 351.5C663.4 350.6 666.7 349.9 670.1 349.7C673.4 349.5 676.8 349.5 680.1 350.2C683.4 350.9 686.8 352.7 690.1 354.0C693.5 355.2 697.2 357.1 700.2 357.7C703.1 358.3 705.2 357.8 707.7 357.7C710.2 357.6 712.3 356.9 715.2 357.2C718.1 357.6 721.9 357.8 725.2 359.7C728.6 361.7 731.9 366.0 735.2 369.0C738.6 372.0 741.9 375.3 745.3 377.8C748.6 380.3 752.4 382.2 755.3 384.0C758.2 385.9 760.3 387.1 762.8 389.0C765.3 391.0 767.6 393.8 770.3 395.8C773.0 397.8 776.2 400.5 779.1 401.1C782.0 401.6 784.7 400.2 787.9 399.1C791.0 397.9 794.6 395.6 797.9 394.1C801.2 392.5 804.6 390.4 807.9 389.5C811.3 388.7 814.8 389.1 817.9 389.0C821.1 389.0 823.8 390.5 826.7 389.0C829.6 387.6 832.4 383.2 835.5 380.3C838.6 377.4 842.2 374.2 845.5 371.5C848.9 368.8 852.2 366.5 855.5 364.0C858.9 361.5 862.2 359.6 865.6 356.5C868.9 353.3 872.2 348.5 875.6 345.2C878.9 341.8 882.3 339.1 885.6 336.4C889.0 333.7 892.3 331.4 895.6 328.9C899.0 326.4 902.3 323.9 905.7 321.4C909.0 318.9 912.3 315.9 915.7 313.9C919.0 311.8 922.4 310.4 925.7 308.8C929.1 307.3 932.4 306.0 935.7 304.6C939.1 303.2 942.4 301.7 945.8 300.6C949.1 299.4 952.4 298.6 955.8 297.6C959.1 296.5 962.5 295.6 965.8 294.3C969.2 293.0 972.5 291.0 975.8 289.5C979.2 288.1 982.5 286.4 985.9 285.5C989.2 284.7 993.0 284.6 995.9 284.5C998.8 284.5 1000.9 284.6 1003.4 285.0C1005.9 285.5 1008.0 286.2 1010.9 287.0C1013.9 287.9 1017.6 289.1 1021.0 290.1C1024.3 291.0 1027.6 291.7 1031.0 292.6C1034.3 293.4 1037.7 294.3 1041.0 295.1C1044.3 295.8 1047.7 297.1 1051.0 297.1C1054.4 297.1 1057.7 295.1 1061.1 295.1C1064.4 295.1 1067.7 296.2 1071.1 297.1C1074.4 297.9 1077.8 299.5 1081.1 300.1C1084.4 300.7 1088.0 300.1 1091.1 300.6C1094.3 301.1 1096.8 302.7 1100.0 302.9C1103.2 303.2 1106.9 302.6 1110.4 302.2C1113.9 301.7 1117.3 300.7 1120.8 300.1C1124.3 299.4 1127.7 299.0 1131.2 298.3C1134.7 297.5 1138.1 296.4 1141.6 295.7C1145.1 294.9 1148.5 294.6 1152.0 293.8C1155.4 293.1 1158.9 292.5 1162.4 291.2C1165.8 290.0 1169.3 287.8 1172.8 286.6C1176.2 285.3 1180.1 284.2 1183.2 284.0C1186.2 283.7 1187.9 284.5 1191.0 285.3C1194.0 286.0 1197.9 287.8 1201.4 288.6C1204.8 289.5 1208.7 290.3 1211.8 290.5C1214.8 290.6 1216.5 290.1 1219.6 289.7C1222.6 289.2 1226.5 288.4 1230.0 287.9C1233.4 287.3 1236.9 286.9 1240.4 286.6C1243.8 286.3 1247.3 286.0 1250.7 286.0C1254.2 286.0 1257.7 286.4 1261.1 286.6C1264.6 286.7 1268.1 287.0 1271.5 287.1C1275.0 287.2 1278.5 287.4 1281.9 287.3C1285.4 287.3 1288.9 287.1 1292.3 286.6C1295.8 286.0 1299.3 285.0 1302.7 284.0C1306.2 282.9 1309.7 281.6 1313.1 280.1C1316.6 278.5 1320.1 276.8 1323.5 274.9C1327.0 272.9 1331.2 270.0 1333.9 268.4C1336.7 266.7 1337.6 266.7 1340.0 265.0C1342.4 263.4 1345.5 260.8 1348.2 258.5C1350.9 256.1 1353.7 253.7 1356.4 251.1C1359.1 248.5 1361.9 245.6 1364.6 242.9C1367.4 240.1 1370.1 237.4 1372.8 234.7C1375.6 231.9 1378.3 229.2 1381.0 226.5C1383.8 223.7 1386.5 221.0 1389.2 218.3C1392.0 215.5 1394.7 212.9 1397.4 210.1C1400.2 207.2 1402.9 203.9 1405.6 201.0C1408.4 198.2 1411.1 195.1 1413.9 192.8C1416.6 190.5 1419.3 188.7 1422.1 187.1C1424.8 185.4 1427.5 184.3 1430.3 183.0C1433.0 181.7 1435.7 180.4 1438.5 179.4C1441.2 178.4 1443.9 177.6 1446.7 176.9C1449.4 176.2 1452.2 175.6 1454.9 175.1C1457.6 174.6 1460.4 174.4 1463.1 174.0C1465.8 173.5 1468.4 172.6 1471.3 172.3C1474.2 172.0 1477.1 172.8 1480.3 172.3C1483.4 171.7 1486.9 170.4 1490.3 169.0C1493.6 167.6 1497.0 165.1 1500.3 164.0C1503.6 162.9 1507.0 162.5 1510.3 162.3C1513.7 162.0 1517.0 162.3 1520.4 162.3C1523.7 162.3 1527.0 162.4 1530.4 162.3C1533.7 162.1 1537.1 161.6 1540.4 161.5C1543.7 161.4 1547.1 161.8 1550.4 161.5C1553.8 161.2 1557.1 160.5 1560.5 159.7C1563.8 159.0 1567.1 158.1 1570.5 157.2C1573.8 156.4 1577.2 155.6 1580.5 154.7C1583.8 153.9 1587.2 152.9 1590.5 152.2C1593.9 151.6 1597.2 151.3 1600.6 150.7C1603.9 150.2 1607.2 149.9 1610.6 149.0C1613.9 148.1 1617.3 146.7 1620.6 145.2C1623.9 143.8 1627.3 142.0 1630.6 140.2C1634.0 138.4 1637.3 136.4 1640.7 134.7C1644.0 133.0 1647.3 131.6 1650.7 130.2C1654.0 128.8 1657.4 127.5 1660.7 126.4C1664.0 125.4 1667.4 124.8 1670.7 123.9C1674.1 123.0 1677.4 121.7 1680.8 120.9C1684.1 120.1 1687.4 119.6 1690.8 118.9C1694.1 118.1 1697.5 117.2 1700.8 116.4C1704.1 115.6 1707.5 114.7 1710.8 113.9C1714.2 113.0 1717.5 112.2 1720.9 111.4C1724.2 110.5 1727.5 109.7 1730.9 108.9C1734.2 108.0 1737.6 107.2 1740.9 106.4C1744.2 105.5 1747.6 104.7 1750.9 103.9C1754.3 103.0 1757.6 102.0 1761.0 101.4C1764.3 100.7 1767.6 100.4 1771.0 100.1C1774.3 99.8 1777.7 99.7 1781.0 99.6C1784.3 99.5 1787.7 100.1 1791.0 99.6C1794.4 99.1 1797.7 97.7 1801.1 96.3C1804.4 95.0 1807.7 92.7 1811.1 91.3C1814.4 89.9 1817.8 89.2 1821.1 88.1C1824.4 86.9 1827.8 86.0 1831.1 84.6C1834.5 83.1 1838.9 80.7 1841.2 79.5C1843.5 78.4 1844.3 77.9 1844.9 77.5" fill="none" stroke="#12a040" stroke-width="1.15" stroke-linejoin="round"/>
<path d="M5.5 261.4C7.1 259.9 11.8 255.3 15.0 252.6C18.3 249.9 22.1 246.6 25.1 245.1C28.0 243.7 29.7 244.1 32.6 243.9C35.5 243.7 39.3 243.4 42.6 243.9C45.9 244.3 49.3 245.2 52.6 246.4C56.0 247.5 59.3 249.6 62.7 250.9C66.0 252.1 69.3 253.0 72.7 253.9C76.0 254.8 79.4 255.6 82.7 256.4C86.0 257.2 89.4 258.3 92.7 258.9C96.1 259.5 99.4 259.9 102.8 260.2C106.1 260.4 109.4 259.5 112.8 260.2C116.1 260.8 119.5 262.2 122.8 263.9C126.1 265.6 129.5 267.7 132.8 270.2C136.2 272.7 139.5 275.8 142.9 278.9C146.2 282.1 149.5 285.2 152.9 289.0C156.2 292.7 159.6 297.3 162.9 301.5C166.2 305.7 169.6 310.1 172.9 314.0C176.3 318.0 179.6 321.8 183.0 325.3C186.3 328.9 189.6 332.4 193.0 335.3C196.3 338.3 201.0 341.4 203.0 342.9C205.0 344.3 203.0 342.9 205.1 343.8C207.1 344.6 211.7 346.2 215.1 348.0C218.4 349.9 221.8 352.2 225.1 355.1C228.5 357.9 231.8 361.3 235.1 365.1C238.5 368.8 241.8 373.2 245.2 377.6C248.5 382.0 251.8 387.0 255.2 391.4C258.5 395.8 261.9 400.2 265.2 403.9C268.6 407.7 271.9 411.2 275.2 414.0C278.6 416.7 281.9 418.4 285.3 420.2C288.6 422.0 291.9 423.3 295.3 424.7C298.6 426.2 302.0 427.9 305.3 429.0C308.7 430.1 312.0 431.1 315.3 431.5C318.7 431.9 322.0 431.9 325.4 431.5C328.7 431.1 332.0 429.5 335.4 429.0C338.7 428.5 342.1 428.1 345.4 428.2C348.8 428.4 352.1 429.4 355.4 429.7C358.8 430.1 362.1 430.5 365.5 430.3C368.8 430.0 372.1 429.4 375.5 428.5C378.8 427.6 382.2 426.4 385.5 424.7C388.9 423.0 392.2 420.7 395.5 418.2C398.9 415.7 402.2 412.7 405.6 409.7C408.9 406.7 412.2 402.7 415.6 400.2C418.9 397.6 422.3 395.9 425.6 394.4C429.0 392.9 432.3 392.2 435.6 391.4C439.0 390.6 442.3 390.5 445.7 389.6C449.0 388.8 452.3 387.4 455.7 386.4C459.0 385.3 462.4 384.2 465.7 383.4C469.1 382.5 472.4 382.2 475.7 381.4C479.1 380.5 482.4 379.7 485.8 378.4C489.1 377.0 492.4 374.9 495.8 373.1C499.1 371.3 502.5 369.2 505.8 367.6C509.2 366.0 512.5 364.5 515.8 363.3C519.2 362.2 522.5 361.2 525.9 360.6C529.2 359.9 532.5 359.6 535.9 359.6C539.2 359.6 542.6 360.3 545.9 360.6C549.3 360.9 552.6 361.2 555.9 361.3C559.3 361.5 562.6 361.5 566.0 361.3C569.3 361.2 572.6 360.9 576.0 360.6C579.3 360.3 582.7 360.1 586.0 359.6C589.4 359.1 592.7 358.4 596.0 357.6C599.4 356.7 602.7 355.5 606.1 354.6C609.4 353.6 612.7 352.8 616.1 352.1C619.4 351.3 622.8 350.6 626.1 350.1C629.5 349.5 633.8 349.1 636.1 348.8C638.5 348.5 637.7 348.3 640.0 348.4C642.3 348.6 646.7 349.2 650.0 349.7C653.4 350.2 656.7 351.3 660.1 351.5C663.4 351.6 666.7 350.3 670.1 350.7C673.4 351.1 676.8 352.8 680.1 354.0C683.4 355.1 686.8 356.5 690.1 357.7C693.5 359.0 696.8 360.7 700.2 361.5C703.5 362.2 706.8 362.4 710.2 362.2C713.5 362.0 717.3 360.5 720.2 360.2C723.1 360.0 725.2 360.0 727.7 360.7C730.2 361.5 732.3 363.7 735.2 364.7C738.2 365.8 741.9 366.7 745.3 367.2C748.6 367.8 752.4 367.7 755.3 368.2C758.2 368.7 760.3 369.1 762.8 370.3C765.3 371.4 767.4 373.6 770.3 375.3C773.2 376.9 777.0 378.9 780.4 380.3C783.7 381.6 787.0 382.4 790.4 383.3C793.7 384.1 797.1 384.8 800.4 385.3C803.7 385.7 807.1 385.7 810.4 386.0C813.8 386.4 817.5 387.1 820.5 387.3C823.4 387.5 825.5 387.8 828.0 387.3C830.5 386.8 832.6 385.5 835.5 384.0C838.4 382.5 842.2 380.2 845.5 378.3C848.9 376.4 852.8 374.0 855.5 372.8C858.3 371.5 859.3 371.2 861.8 370.8C864.3 370.3 868.1 370.5 870.6 370.3C873.1 370.0 874.8 370.3 876.8 369.5C878.9 368.7 880.8 367.2 883.1 365.2C885.4 363.3 887.7 360.4 890.6 357.7C893.6 355.0 897.3 351.9 900.7 348.9C904.0 346.0 907.3 343.3 910.7 340.2C914.0 337.0 917.4 333.1 920.7 330.2C924.0 327.2 927.4 324.7 930.7 322.6C934.1 320.5 937.4 319.3 940.8 317.6C944.1 315.9 947.4 314.3 950.8 312.6C954.1 310.9 957.5 309.2 960.8 307.6C964.1 306.0 967.5 304.4 970.8 303.1C974.2 301.7 977.5 300.8 980.9 299.6C984.2 298.4 987.5 296.9 990.9 295.8C994.2 294.7 997.6 293.8 1000.9 293.1C1004.2 292.3 1007.6 291.9 1010.9 291.3C1014.3 290.7 1017.6 289.8 1021.0 289.5C1024.3 289.3 1027.6 289.3 1031.0 289.5C1034.3 289.8 1037.7 290.6 1041.0 291.3C1044.3 292.0 1047.7 293.4 1051.0 293.8C1054.4 294.2 1057.7 293.7 1061.1 293.8C1064.4 293.9 1067.7 294.2 1071.1 294.6C1074.4 294.9 1077.8 295.5 1081.1 295.8C1084.4 296.1 1088.0 296.2 1091.1 296.3C1094.3 296.4 1096.8 296.2 1100.0 296.4C1103.2 296.6 1106.9 297.2 1110.4 297.5C1113.9 297.8 1117.3 298.0 1120.8 298.3C1124.3 298.5 1127.7 299.0 1131.2 299.0C1134.7 299.0 1138.1 298.4 1141.6 298.3C1145.1 298.1 1148.5 298.7 1152.0 298.3C1155.4 297.8 1158.9 296.5 1162.4 295.7C1165.8 294.8 1169.3 293.9 1172.8 293.1C1176.2 292.2 1180.1 290.9 1183.2 290.5C1186.2 290.0 1187.9 290.1 1191.0 290.5C1194.0 290.8 1197.9 292.1 1201.4 292.5C1204.8 293.0 1208.7 293.2 1211.8 293.1C1214.8 292.9 1216.5 292.3 1219.6 291.8C1222.6 291.2 1226.5 290.6 1230.0 289.9C1233.4 289.3 1236.9 288.5 1240.4 287.9C1243.8 287.2 1247.3 286.5 1250.7 286.0C1254.2 285.6 1257.7 285.5 1261.1 285.3C1264.6 285.0 1268.1 284.6 1271.5 284.5C1275.0 284.4 1278.5 284.4 1281.9 284.5C1285.4 284.5 1288.9 284.6 1292.3 284.7C1295.8 284.9 1299.3 285.2 1302.7 285.3C1306.2 285.3 1309.7 285.6 1313.1 285.3C1316.6 285.0 1320.1 284.5 1323.5 283.4C1327.0 282.4 1331.2 280.1 1333.9 278.8C1336.7 277.5 1337.6 277.3 1340.0 275.7C1342.4 274.1 1345.5 271.5 1348.2 269.1C1350.9 266.8 1353.7 263.9 1356.4 261.8C1359.1 259.6 1361.9 257.9 1364.6 256.0C1367.4 254.1 1370.1 252.1 1372.8 250.3C1375.6 248.4 1378.3 246.8 1381.0 245.0C1383.8 243.2 1386.5 241.3 1389.2 239.6C1392.0 237.9 1394.7 236.5 1397.4 234.7C1400.2 232.9 1402.9 230.8 1405.6 228.9C1408.4 227.0 1411.1 225.1 1413.9 223.2C1416.6 221.3 1419.3 219.4 1422.1 217.4C1424.8 215.4 1427.5 213.3 1430.3 211.2C1433.0 209.2 1435.7 207.2 1438.5 205.1C1441.2 203.1 1443.9 201.1 1446.7 198.9C1449.4 196.7 1452.2 194.2 1454.9 192.0C1457.6 189.8 1460.4 187.7 1463.1 185.9C1465.8 184.2 1468.4 182.3 1471.3 181.3C1474.2 180.4 1477.1 181.1 1480.3 180.3C1483.4 179.5 1486.9 177.9 1490.3 176.5C1493.6 175.2 1497.0 173.5 1500.3 172.3C1503.6 171.0 1507.0 169.9 1510.3 169.0C1513.7 168.2 1517.0 167.7 1520.4 167.3C1523.7 166.9 1527.0 166.9 1530.4 166.5C1533.7 166.2 1537.1 165.7 1540.4 165.3C1543.7 164.8 1547.1 164.4 1550.4 164.0C1553.8 163.6 1557.1 163.3 1560.5 162.8C1563.8 162.2 1567.1 161.4 1570.5 160.8C1573.8 160.1 1577.2 159.8 1580.5 159.0C1583.8 158.2 1587.2 157.0 1590.5 156.0C1593.9 155.0 1597.2 154.1 1600.6 153.2C1603.9 152.4 1607.2 151.6 1610.6 150.7C1613.9 149.8 1617.3 148.7 1620.6 147.7C1623.9 146.7 1627.3 145.6 1630.6 144.7C1634.0 143.8 1637.3 142.9 1640.7 142.2C1644.0 141.5 1647.3 141.5 1650.7 140.7C1654.0 139.9 1657.4 138.7 1660.7 137.7C1664.0 136.7 1667.4 135.7 1670.7 134.7C1674.1 133.6 1677.4 132.6 1680.8 131.4C1684.1 130.3 1687.4 128.8 1690.8 127.7C1694.1 126.5 1697.5 125.7 1700.8 124.7C1704.1 123.6 1707.5 122.5 1710.8 121.4C1714.2 120.3 1717.5 119.2 1720.9 118.1C1724.2 117.1 1727.5 116.1 1730.9 115.1C1734.2 114.1 1737.6 113.0 1740.9 112.1C1744.2 111.2 1747.6 110.5 1750.9 109.6C1754.3 108.8 1757.6 107.8 1761.0 107.1C1764.3 106.4 1767.6 106.0 1771.0 105.6C1774.3 105.2 1777.7 105.0 1781.0 104.6C1784.3 104.2 1787.7 103.9 1791.0 103.1C1794.4 102.4 1797.7 101.1 1801.1 100.1C1804.4 99.1 1807.7 98.1 1811.1 97.1C1814.4 96.0 1817.8 95.0 1821.1 93.8C1824.4 92.7 1827.8 91.4 1831.1 90.1C1834.5 88.7 1838.9 86.9 1841.2 85.8C1843.5 84.8 1844.3 84.1 1844.9 83.8" fill="none" stroke="#f830f8" stroke-width="1.15" stroke-linejoin="round"/>
</g>
<g shape-rendering="crispEdges"><rect x="0" y="543" width="1916" height="1" fill="#000"/><rect x="0" y="544" width="1916" height="1" fill="#e8e8e8"/><rect x="0" y="545" width="1916" height="1" fill="#000"/></g>
<g clip-path="url(#cmacd)">
<clipPath id="cabove"><polygon points="5.5,569.3 15.0,567.1 25.1,567.6 35.1,572.6 45.1,581.3 55.1,592.6 65.2,606.4 75.2,617.7 85.2,623.9 95.2,627.0 105.3,626.5 115.3,624.7 125.3,627.2 135.3,634.0 145.4,641.5 155.4,650.3 165.4,657.8 175.4,665.3 185.5,671.1 195.5,672.8 205.5,669.6 215.5,666.6 225.6,662.8 235.6,661.0 241.9,661.5 250.6,666.1 260.7,672.8 270.7,676.6 278.2,676.6 285.7,672.8 295.7,665.3 305.8,657.8 315.8,651.5 325.8,643.2 335.8,632.7 345.9,621.4 355.9,612.7 365.9,606.4 375.9,600.1 386.0,595.1 396.0,591.4 406.0,588.9 416.0,587.6 426.1,587.1 436.1,588.9 446.1,593.9 456.1,600.1 466.2,604.6 470.0,606.4 480.0,603.9 490.1,600.1 500.1,593.9 510.1,587.6 520.1,582.6 528.9,580.1 535.2,580.6 542.7,582.6 550.2,587.6 557.7,592.6 565.2,597.6 575.3,602.1 585.3,606.4 595.3,610.2 605.3,613.2 612.9,614.7 620.4,613.9 630.4,610.2 640.4,605.9 650.5,602.6 660.5,600.6 668.0,600.1 674.3,599.4 680.5,602.1 688.0,607.7 695.6,614.7 703.1,620.2 709.3,623.9 716.9,625.2 723.1,623.4 728.1,623.4 735.7,626.5 743.2,629.7 750.7,632.2 758.2,632.7 765.7,633.5 773.3,635.7 780.8,636.5 788.3,635.2 795.8,631.5 805.8,623.9 815.9,616.4 825.9,608.9 835.9,602.6 845.9,596.4 856.0,590.9 863.5,587.6 873.5,586.4 881.0,585.9 888.5,584.3 896.1,581.3 906.1,576.3 913.6,572.6 921.1,570.6 926.1,570.1 933.7,571.3 940.0,573.3 952.5,577.6 965.1,581.3 977.6,584.6 990.1,586.4 1002.7,587.6 1012.7,591.4 1022.7,596.4 1032.7,602.1 1042.8,607.2 1050.3,609.7 1060.3,610.2 1070.3,612.2 1080.4,612.7 1090.4,612.2 1100.4,610.7 1110.4,609.7 1120.5,608.9 1130.5,609.4 1140.5,608.2 1150.5,606.4 1160.6,603.9 1170.6,601.4 1180.6,599.6 1188.1,599.6 1195.6,601.4 1203.2,605.2 1210.7,609.7 1218.2,612.2 1225.7,612.7 1233.2,611.4 1240.8,609.7 1250.8,607.7 1260.8,606.4 1270.8,605.2 1280.9,604.6 1290.9,605.2 1300.9,606.4 1308.4,607.7 1315.9,607.7 1323.5,604.6 1333.5,597.6 1343.5,589.6 1353.5,582.1 1363.6,575.1 1373.6,569.6 1380.0,567.6 1390.0,565.1 1400.1,564.3 1410.1,564.3 1420.1,565.1 1430.1,566.8 1440.2,568.8 1450.2,571.8 1460.2,575.1 1470.2,578.1 1480.3,581.3 1487.8,583.1 1495.3,583.3 1502.8,583.1 1510.3,583.8 1520.4,587.1 1530.4,590.1 1540.4,593.9 1550.4,597.1 1557.9,598.1 1566.7,597.6 1575.5,597.6 1585.5,596.4 1595.5,593.9 1603.1,592.6 1610.6,592.1 1618.1,591.9 1625.6,590.1 1633.1,589.4 1640.7,588.9 1650.7,589.6 1660.7,590.1 1670.7,590.9 1680.8,590.9 1688.3,591.9 1695.8,593.4 1703.3,594.6 1710.8,595.9 1718.3,595.6 1725.9,593.9 1735.9,591.9 1745.9,590.6 1755.9,590.1 1766.0,591.4 1773.5,593.1 1781.0,595.9 1788.5,598.9 1794.8,600.6 1803.6,600.6 1811.1,598.1 1821.1,594.6 1831.1,591.4 1838.6,588.1 1844.9,585.1 1845,540 5,540"/></clipPath>
<clipPath id="cbelow"><polygon points="5.5,569.3 15.0,567.1 25.1,567.6 35.1,572.6 45.1,581.3 55.1,592.6 65.2,606.4 75.2,617.7 85.2,623.9 95.2,627.0 105.3,626.5 115.3,624.7 125.3,627.2 135.3,634.0 145.4,641.5 155.4,650.3 165.4,657.8 175.4,665.3 185.5,671.1 195.5,672.8 205.5,669.6 215.5,666.6 225.6,662.8 235.6,661.0 241.9,661.5 250.6,666.1 260.7,672.8 270.7,676.6 278.2,676.6 285.7,672.8 295.7,665.3 305.8,657.8 315.8,651.5 325.8,643.2 335.8,632.7 345.9,621.4 355.9,612.7 365.9,606.4 375.9,600.1 386.0,595.1 396.0,591.4 406.0,588.9 416.0,587.6 426.1,587.1 436.1,588.9 446.1,593.9 456.1,600.1 466.2,604.6 470.0,606.4 480.0,603.9 490.1,600.1 500.1,593.9 510.1,587.6 520.1,582.6 528.9,580.1 535.2,580.6 542.7,582.6 550.2,587.6 557.7,592.6 565.2,597.6 575.3,602.1 585.3,606.4 595.3,610.2 605.3,613.2 612.9,614.7 620.4,613.9 630.4,610.2 640.4,605.9 650.5,602.6 660.5,600.6 668.0,600.1 674.3,599.4 680.5,602.1 688.0,607.7 695.6,614.7 703.1,620.2 709.3,623.9 716.9,625.2 723.1,623.4 728.1,623.4 735.7,626.5 743.2,629.7 750.7,632.2 758.2,632.7 765.7,633.5 773.3,635.7 780.8,636.5 788.3,635.2 795.8,631.5 805.8,623.9 815.9,616.4 825.9,608.9 835.9,602.6 845.9,596.4 856.0,590.9 863.5,587.6 873.5,586.4 881.0,585.9 888.5,584.3 896.1,581.3 906.1,576.3 913.6,572.6 921.1,570.6 926.1,570.1 933.7,571.3 940.0,573.3 952.5,577.6 965.1,581.3 977.6,584.6 990.1,586.4 1002.7,587.6 1012.7,591.4 1022.7,596.4 1032.7,602.1 1042.8,607.2 1050.3,609.7 1060.3,610.2 1070.3,612.2 1080.4,612.7 1090.4,612.2 1100.4,610.7 1110.4,609.7 1120.5,608.9 1130.5,609.4 1140.5,608.2 1150.5,606.4 1160.6,603.9 1170.6,601.4 1180.6,599.6 1188.1,599.6 1195.6,601.4 1203.2,605.2 1210.7,609.7 1218.2,612.2 1225.7,612.7 1233.2,611.4 1240.8,609.7 1250.8,607.7 1260.8,606.4 1270.8,605.2 1280.9,604.6 1290.9,605.2 1300.9,606.4 1308.4,607.7 1315.9,607.7 1323.5,604.6 1333.5,597.6 1343.5,589.6 1353.5,582.1 1363.6,575.1 1373.6,569.6 1380.0,567.6 1390.0,565.1 1400.1,564.3 1410.1,564.3 1420.1,565.1 1430.1,566.8 1440.2,568.8 1450.2,571.8 1460.2,575.1 1470.2,578.1 1480.3,581.3 1487.8,583.1 1495.3,583.3 1502.8,583.1 1510.3,583.8 1520.4,587.1 1530.4,590.1 1540.4,593.9 1550.4,597.1 1557.9,598.1 1566.7,597.6 1575.5,597.6 1585.5,596.4 1595.5,593.9 1603.1,592.6 1610.6,592.1 1618.1,591.9 1625.6,590.1 1633.1,589.4 1640.7,588.9 1650.7,589.6 1660.7,590.1 1670.7,590.9 1680.8,590.9 1688.3,591.9 1695.8,593.4 1703.3,594.6 1710.8,595.9 1718.3,595.6 1725.9,593.9 1735.9,591.9 1745.9,590.6 1755.9,590.1 1766.0,591.4 1773.5,593.1 1781.0,595.9 1788.5,598.9 1794.8,600.6 1803.6,600.6 1811.1,598.1 1821.1,594.6 1831.1,591.4 1838.6,588.1 1844.9,585.1 1845,705 5,705"/></clipPath>
<polygon points="5.5,566.1 12.5,564.0 20.1,565.1 25.1,568.1 32.6,582.6 40.1,591.4 50.1,607.7 57.6,622.7 65.2,632.7 75.2,634.0 85.2,632.2 95.2,630.2 102.8,626.5 110.3,620.7 114.0,619.4 120.3,625.2 130.3,641.5 140.4,651.5 150.4,660.8 160.4,667.8 170.4,677.8 180.5,683.3 185.5,682.8 195.5,675.3 205.5,662.8 213.0,659.8 220.6,654.5 228.1,656.0 235.6,660.3 240.6,664.0 250.6,677.8 255.6,680.3 261.9,687.4 265.7,687.4 275.7,679.1 285.7,661.5 295.7,646.5 300.8,641.5 305.8,642.7 313.3,639.7 320.8,632.2 330.8,616.4 338.3,607.7 345.9,601.4 353.4,598.4 360.9,600.6 365.9,597.6 373.4,591.4 381.0,586.4 391.0,585.1 401.0,583.3 407.3,582.1 416.0,586.4 423.6,585.1 431.1,587.6 438.6,593.9 446.1,603.9 453.6,611.4 461.2,613.9 470.0,611.4 477.5,602.6 487.5,595.1 495.1,585.1 502.6,576.3 508.8,573.3 515.1,573.3 522.6,574.6 528.9,575.6 535.2,582.6 542.7,591.4 550.2,601.4 557.7,607.7 565.2,609.7 570.3,609.7 577.8,612.7 585.3,613.9 592.8,616.4 600.3,618.4 607.8,619.4 615.4,615.9 622.9,607.7 630.4,599.6 636.7,595.9 642.9,595.1 650.5,595.9 658.0,598.4 664.2,596.9 670.5,597.6 675.5,600.6 683.0,612.7 690.6,625.2 698.1,634.0 704.8,638.5 710.6,632.7 718.1,623.9 724.4,616.9 729.4,622.7 735.7,634.0 740.7,639.0 745.7,639.0 752.0,636.5 758.2,633.5 763.2,634.7 769.5,639.0 775.3,642.0 780.8,639.7 785.8,632.7 790.8,626.5 795.8,621.4 800.8,613.9 808.3,606.4 815.9,601.4 825.9,593.9 835.9,588.9 845.9,583.8 853.5,581.3 860.5,579.3 866.0,582.1 872.3,585.1 878.5,584.6 886.0,582.6 892.3,576.3 901.1,569.6 908.6,565.1 913.6,563.3 917.4,563.8 922.4,567.1 928.6,570.8 936.2,576.3 940.0,577.1 947.5,580.1 955.0,583.3 962.6,586.4 970.1,587.6 977.6,590.6 985.1,589.6 992.6,589.6 1000.2,588.1 1006.4,591.4 1012.7,597.6 1020.2,605.2 1027.7,611.4 1035.2,615.2 1042.8,616.4 1047.8,614.7 1052.8,611.4 1057.8,609.7 1062.8,612.2 1070.3,614.7 1077.8,615.9 1084.1,614.7 1090.4,610.7 1096.6,608.4 1102.9,608.9 1110.4,606.4 1116.7,606.4 1123.0,609.7 1129.2,608.9 1135.5,608.4 1143.0,605.2 1153.0,601.4 1163.1,597.6 1173.1,597.1 1180.6,597.6 1186.9,600.1 1193.1,607.7 1200.7,615.2 1206.9,619.4 1214.4,619.4 1222.0,613.9 1230.7,609.7 1239.5,605.7 1248.3,604.6 1257.0,603.9 1264.6,602.6 1272.1,603.4 1279.6,603.1 1285.9,605.7 1293.4,606.4 1299.6,608.2 1305.9,611.4 1312.2,608.9 1317.2,606.4 1323.5,596.4 1331.0,586.4 1341.0,576.3 1351.0,568.8 1361.1,563.0 1371.1,559.5 1380.0,560.0 1387.5,560.8 1397.5,563.8 1405.1,564.5 1415.1,565.6 1425.1,567.6 1432.6,570.6 1441.4,572.6 1446.4,575.6 1452.7,577.1 1462.7,581.8 1470.2,583.8 1476.5,585.1 1482.8,588.1 1487.3,588.9 1494.0,585.1 1501.6,582.6 1506.6,584.6 1511.6,588.9 1517.8,590.9 1524.1,593.1 1527.9,593.9 1534.1,598.4 1541.7,602.6 1550.4,602.6 1557.9,600.1 1566.7,597.1 1574.2,596.4 1583.0,595.1 1590.5,590.1 1596.8,587.6 1603.1,589.6 1609.3,591.9 1614.3,592.1 1620.6,588.1 1628.1,586.4 1635.6,588.1 1643.2,588.9 1650.7,590.1 1658.2,591.4 1665.7,592.6 1673.2,592.6 1679.5,591.4 1685.8,592.1 1693.3,597.1 1700.8,597.1 1705.8,597.1 1709.6,598.1 1715.8,595.9 1723.4,591.4 1729.6,588.9 1738.4,587.1 1747.2,588.1 1755.9,589.6 1763.5,592.6 1772.2,596.4 1781.0,602.6 1788.5,606.4 1794.0,608.4 1801.1,600.1 1808.6,593.9 1816.1,590.1 1823.6,587.1 1831.1,583.8 1838.6,578.3 1844.9,575.8 1844.9,585.1 1838.6,588.1 1831.1,591.4 1821.1,594.6 1811.1,598.1 1803.6,600.6 1794.8,600.6 1788.5,598.9 1781.0,595.9 1773.5,593.1 1766.0,591.4 1755.9,590.1 1745.9,590.6 1735.9,591.9 1725.9,593.9 1718.3,595.6 1710.8,595.9 1703.3,594.6 1695.8,593.4 1688.3,591.9 1680.8,590.9 1670.7,590.9 1660.7,590.1 1650.7,589.6 1640.7,588.9 1633.1,589.4 1625.6,590.1 1618.1,591.9 1610.6,592.1 1603.1,592.6 1595.5,593.9 1585.5,596.4 1575.5,597.6 1566.7,597.6 1557.9,598.1 1550.4,597.1 1540.4,593.9 1530.4,590.1 1520.4,587.1 1510.3,583.8 1502.8,583.1 1495.3,583.3 1487.8,583.1 1480.3,581.3 1470.2,578.1 1460.2,575.1 1450.2,571.8 1440.2,568.8 1430.1,566.8 1420.1,565.1 1410.1,564.3 1400.1,564.3 1390.0,565.1 1380.0,567.6 1373.6,569.6 1363.6,575.1 1353.5,582.1 1343.5,589.6 1333.5,597.6 1323.5,604.6 1315.9,607.7 1308.4,607.7 1300.9,606.4 1290.9,605.2 1280.9,604.6 1270.8,605.2 1260.8,606.4 1250.8,607.7 1240.8,609.7 1233.2,611.4 1225.7,612.7 1218.2,612.2 1210.7,609.7 1203.2,605.2 1195.6,601.4 1188.1,599.6 1180.6,599.6 1170.6,601.4 1160.6,603.9 1150.5,606.4 1140.5,608.2 1130.5,609.4 1120.5,608.9 1110.4,609.7 1100.4,610.7 1090.4,612.2 1080.4,612.7 1070.3,612.2 1060.3,610.2 1050.3,609.7 1042.8,607.2 1032.7,602.1 1022.7,596.4 1012.7,591.4 1002.7,587.6 990.1,586.4 977.6,584.6 965.1,581.3 952.5,577.6 940.0,573.3 933.7,571.3 926.1,570.1 921.1,570.6 913.6,572.6 906.1,576.3 896.1,581.3 888.5,584.3 881.0,585.9 873.5,586.4 863.5,587.6 856.0,590.9 845.9,596.4 835.9,602.6 825.9,608.9 815.9,616.4 805.8,623.9 795.8,631.5 788.3,635.2 780.8,636.5 773.3,635.7 765.7,633.5 758.2,632.7 750.7,632.2 743.2,629.7 735.7,626.5 728.1,623.4 723.1,623.4 716.9,625.2 709.3,623.9 703.1,620.2 695.6,614.7 688.0,607.7 680.5,602.1 674.3,599.4 668.0,600.1 660.5,600.6 650.5,602.6 640.4,605.9 630.4,610.2 620.4,613.9 612.9,614.7 605.3,613.2 595.3,610.2 585.3,606.4 575.3,602.1 565.2,597.6 557.7,592.6 550.2,587.6 542.7,582.6 535.2,580.6 528.9,580.1 520.1,582.6 510.1,587.6 500.1,593.9 490.1,600.1 480.0,603.9 470.0,606.4 466.2,604.6 456.1,600.1 446.1,593.9 436.1,588.9 426.1,587.1 416.0,587.6 406.0,588.9 396.0,591.4 386.0,595.1 375.9,600.1 365.9,606.4 355.9,612.7 345.9,621.4 335.8,632.7 325.8,643.2 315.8,651.5 305.8,657.8 295.7,665.3 285.7,672.8 278.2,676.6 270.7,676.6 260.7,672.8 250.6,666.1 241.9,661.5 235.6,661.0 225.6,662.8 215.5,666.6 205.5,669.6 195.5,672.8 185.5,671.1 175.4,665.3 165.4,657.8 155.4,650.3 145.4,641.5 135.3,634.0 125.3,627.2 115.3,624.7 105.3,626.5 95.2,627.0 85.2,623.9 75.2,617.7 65.2,606.4 55.1,592.6 45.1,581.3 35.1,572.6 25.1,567.6 15.0,567.1 5.5,569.3" fill="#cfe3f4" clip-path="url(#cabove)"/>
<polygon points="5.5,566.1 12.5,564.0 20.1,565.1 25.1,568.1 32.6,582.6 40.1,591.4 50.1,607.7 57.6,622.7 65.2,632.7 75.2,634.0 85.2,632.2 95.2,630.2 102.8,626.5 110.3,620.7 114.0,619.4 120.3,625.2 130.3,641.5 140.4,651.5 150.4,660.8 160.4,667.8 170.4,677.8 180.5,683.3 185.5,682.8 195.5,675.3 205.5,662.8 213.0,659.8 220.6,654.5 228.1,656.0 235.6,660.3 240.6,664.0 250.6,677.8 255.6,680.3 261.9,687.4 265.7,687.4 275.7,679.1 285.7,661.5 295.7,646.5 300.8,641.5 305.8,642.7 313.3,639.7 320.8,632.2 330.8,616.4 338.3,607.7 345.9,601.4 353.4,598.4 360.9,600.6 365.9,597.6 373.4,591.4 381.0,586.4 391.0,585.1 401.0,583.3 407.3,582.1 416.0,586.4 423.6,585.1 431.1,587.6 438.6,593.9 446.1,603.9 453.6,611.4 461.2,613.9 470.0,611.4 477.5,602.6 487.5,595.1 495.1,585.1 502.6,576.3 508.8,573.3 515.1,573.3 522.6,574.6 528.9,575.6 535.2,582.6 542.7,591.4 550.2,601.4 557.7,607.7 565.2,609.7 570.3,609.7 577.8,612.7 585.3,613.9 592.8,616.4 600.3,618.4 607.8,619.4 615.4,615.9 622.9,607.7 630.4,599.6 636.7,595.9 642.9,595.1 650.5,595.9 658.0,598.4 664.2,596.9 670.5,597.6 675.5,600.6 683.0,612.7 690.6,625.2 698.1,634.0 704.8,638.5 710.6,632.7 718.1,623.9 724.4,616.9 729.4,622.7 735.7,634.0 740.7,639.0 745.7,639.0 752.0,636.5 758.2,633.5 763.2,634.7 769.5,639.0 775.3,642.0 780.8,639.7 785.8,632.7 790.8,626.5 795.8,621.4 800.8,613.9 808.3,606.4 815.9,601.4 825.9,593.9 835.9,588.9 845.9,583.8 853.5,581.3 860.5,579.3 866.0,582.1 872.3,585.1 878.5,584.6 886.0,582.6 892.3,576.3 901.1,569.6 908.6,565.1 913.6,563.3 917.4,563.8 922.4,567.1 928.6,570.8 936.2,576.3 940.0,577.1 947.5,580.1 955.0,583.3 962.6,586.4 970.1,587.6 977.6,590.6 985.1,589.6 992.6,589.6 1000.2,588.1 1006.4,591.4 1012.7,597.6 1020.2,605.2 1027.7,611.4 1035.2,615.2 1042.8,616.4 1047.8,614.7 1052.8,611.4 1057.8,609.7 1062.8,612.2 1070.3,614.7 1077.8,615.9 1084.1,614.7 1090.4,610.7 1096.6,608.4 1102.9,608.9 1110.4,606.4 1116.7,606.4 1123.0,609.7 1129.2,608.9 1135.5,608.4 1143.0,605.2 1153.0,601.4 1163.1,597.6 1173.1,597.1 1180.6,597.6 1186.9,600.1 1193.1,607.7 1200.7,615.2 1206.9,619.4 1214.4,619.4 1222.0,613.9 1230.7,609.7 1239.5,605.7 1248.3,604.6 1257.0,603.9 1264.6,602.6 1272.1,603.4 1279.6,603.1 1285.9,605.7 1293.4,606.4 1299.6,608.2 1305.9,611.4 1312.2,608.9 1317.2,606.4 1323.5,596.4 1331.0,586.4 1341.0,576.3 1351.0,568.8 1361.1,563.0 1371.1,559.5 1380.0,560.0 1387.5,560.8 1397.5,563.8 1405.1,564.5 1415.1,565.6 1425.1,567.6 1432.6,570.6 1441.4,572.6 1446.4,575.6 1452.7,577.1 1462.7,581.8 1470.2,583.8 1476.5,585.1 1482.8,588.1 1487.3,588.9 1494.0,585.1 1501.6,582.6 1506.6,584.6 1511.6,588.9 1517.8,590.9 1524.1,593.1 1527.9,593.9 1534.1,598.4 1541.7,602.6 1550.4,602.6 1557.9,600.1 1566.7,597.1 1574.2,596.4 1583.0,595.1 1590.5,590.1 1596.8,587.6 1603.1,589.6 1609.3,591.9 1614.3,592.1 1620.6,588.1 1628.1,586.4 1635.6,588.1 1643.2,588.9 1650.7,590.1 1658.2,591.4 1665.7,592.6 1673.2,592.6 1679.5,591.4 1685.8,592.1 1693.3,597.1 1700.8,597.1 1705.8,597.1 1709.6,598.1 1715.8,595.9 1723.4,591.4 1729.6,588.9 1738.4,587.1 1747.2,588.1 1755.9,589.6 1763.5,592.6 1772.2,596.4 1781.0,602.6 1788.5,606.4 1794.0,608.4 1801.1,600.1 1808.6,593.9 1816.1,590.1 1823.6,587.1 1831.1,583.8 1838.6,578.3 1844.9,575.8 1844.9,585.1 1838.6,588.1 1831.1,591.4 1821.1,594.6 1811.1,598.1 1803.6,600.6 1794.8,600.6 1788.5,598.9 1781.0,595.9 1773.5,593.1 1766.0,591.4 1755.9,590.1 1745.9,590.6 1735.9,591.9 1725.9,593.9 1718.3,595.6 1710.8,595.9 1703.3,594.6 1695.8,593.4 1688.3,591.9 1680.8,590.9 1670.7,590.9 1660.7,590.1 1650.7,589.6 1640.7,588.9 1633.1,589.4 1625.6,590.1 1618.1,591.9 1610.6,592.1 1603.1,592.6 1595.5,593.9 1585.5,596.4 1575.5,597.6 1566.7,597.6 1557.9,598.1 1550.4,597.1 1540.4,593.9 1530.4,590.1 1520.4,587.1 1510.3,583.8 1502.8,583.1 1495.3,583.3 1487.8,583.1 1480.3,581.3 1470.2,578.1 1460.2,575.1 1450.2,571.8 1440.2,568.8 1430.1,566.8 1420.1,565.1 1410.1,564.3 1400.1,564.3 1390.0,565.1 1380.0,567.6 1373.6,569.6 1363.6,575.1 1353.5,582.1 1343.5,589.6 1333.5,597.6 1323.5,604.6 1315.9,607.7 1308.4,607.7 1300.9,606.4 1290.9,605.2 1280.9,604.6 1270.8,605.2 1260.8,606.4 1250.8,607.7 1240.8,609.7 1233.2,611.4 1225.7,612.7 1218.2,612.2 1210.7,609.7 1203.2,605.2 1195.6,601.4 1188.1,599.6 1180.6,599.6 1170.6,601.4 1160.6,603.9 1150.5,606.4 1140.5,608.2 1130.5,609.4 1120.5,608.9 1110.4,609.7 1100.4,610.7 1090.4,612.2 1080.4,612.7 1070.3,612.2 1060.3,610.2 1050.3,609.7 1042.8,607.2 1032.7,602.1 1022.7,596.4 1012.7,591.4 1002.7,587.6 990.1,586.4 977.6,584.6 965.1,581.3 952.5,577.6 940.0,573.3 933.7,571.3 926.1,570.1 921.1,570.6 913.6,572.6 906.1,576.3 896.1,581.3 888.5,584.3 881.0,585.9 873.5,586.4 863.5,587.6 856.0,590.9 845.9,596.4 835.9,602.6 825.9,608.9 815.9,616.4 805.8,623.9 795.8,631.5 788.3,635.2 780.8,636.5 773.3,635.7 765.7,633.5 758.2,632.7 750.7,632.2 743.2,629.7 735.7,626.5 728.1,623.4 723.1,623.4 716.9,625.2 709.3,623.9 703.1,620.2 695.6,614.7 688.0,607.7 680.5,602.1 674.3,599.4 668.0,600.1 660.5,600.6 650.5,602.6 640.4,605.9 630.4,610.2 620.4,613.9 612.9,614.7 605.3,613.2 595.3,610.2 585.3,606.4 575.3,602.1 565.2,597.6 557.7,592.6 550.2,587.6 542.7,582.6 535.2,580.6 528.9,580.1 520.1,582.6 510.1,587.6 500.1,593.9 490.1,600.1 480.0,603.9 470.0,606.4 466.2,604.6 456.1,600.1 446.1,593.9 436.1,588.9 426.1,587.1 416.0,587.6 406.0,588.9 396.0,591.4 386.0,595.1 375.9,600.1 365.9,606.4 355.9,612.7 345.9,621.4 335.8,632.7 325.8,643.2 315.8,651.5 305.8,657.8 295.7,665.3 285.7,672.8 278.2,676.6 270.7,676.6 260.7,672.8 250.6,666.1 241.9,661.5 235.6,661.0 225.6,662.8 215.5,666.6 205.5,669.6 195.5,672.8 185.5,671.1 175.4,665.3 165.4,657.8 155.4,650.3 145.4,641.5 135.3,634.0 125.3,627.2 115.3,624.7 105.3,626.5 95.2,627.0 85.2,623.9 75.2,617.7 65.2,606.4 55.1,592.6 45.1,581.3 35.1,572.6 25.1,567.6 15.0,567.1 5.5,569.3" fill="#fbdcc6" clip-path="url(#cbelow)"/>
<g stroke="#000" stroke-width="2"><line x1="8.54" y1="611.4" x2="8.54" y2="608.0"/><line x1="13.59" y1="611.4" x2="13.59" y2="608.2"/><line x1="18.63" y1="611.4" x2="18.63" y2="609.0"/><line x1="23.68" y1="611.4" x2="23.68" y2="610.9"/><line x1="28.73" y1="611.4" x2="28.73" y2="617.2"/><line x1="33.77" y1="611.4" x2="33.77" y2="623.5"/><line x1="38.81" y1="611.4" x2="38.81" y2="625.4"/><line x1="43.86" y1="611.4" x2="43.86" y2="628.6"/><line x1="48.91" y1="611.4" x2="48.91" y2="631.5"/><line x1="53.95" y1="611.4" x2="53.95" y2="635.4"/><line x1="58.99" y1="611.4" x2="58.99" y2="638.0"/><line x1="64.04" y1="611.4" x2="64.04" y2="637.8"/><line x1="69.08" y1="611.4" x2="69.08" y2="633.8"/><line x1="74.13" y1="611.4" x2="74.13" y2="628.7"/><line x1="79.17" y1="611.4" x2="79.17" y2="624.5"/><line x1="84.22" y1="611.4" x2="84.22" y2="620.5"/><line x1="89.27" y1="611.4" x2="89.27" y2="617.6"/><line x1="94.31" y1="611.4" x2="94.31" y2="615.1"/><line x1="99.36" y1="611.4" x2="99.36" y2="612.8"/><line x1="104.40" y1="611.4" x2="104.40" y2="610.1"/><line x1="109.44" y1="611.4" x2="109.44" y2="607.0"/><line x1="114.49" y1="611.4" x2="114.49" y2="606.4"/><line x1="119.53" y1="611.4" x2="119.53" y2="610.1"/><line x1="124.58" y1="611.4" x2="124.58" y2="616.5"/><line x1="129.62" y1="611.4" x2="129.62" y2="621.6"/><line x1="134.67" y1="611.4" x2="134.67" y2="623.7"/><line x1="139.72" y1="611.4" x2="139.72" y2="625.0"/><line x1="144.76" y1="611.4" x2="144.76" y2="626.0"/><line x1="149.81" y1="611.4" x2="149.81" y2="626.3"/><line x1="154.85" y1="611.4" x2="154.85" y2="625.5"/><line x1="159.90" y1="611.4" x2="159.90" y2="625.2"/><line x1="164.94" y1="611.4" x2="164.94" y2="626.3"/><line x1="169.98" y1="611.4" x2="169.98" y2="627.6"/><line x1="175.03" y1="611.4" x2="175.03" y2="626.8"/><line x1="180.07" y1="611.4" x2="180.07" y2="626.6"/><line x1="185.12" y1="611.4" x2="185.12" y2="623.4"/><line x1="190.16" y1="611.4" x2="190.16" y2="618.8"/><line x1="195.21" y1="611.4" x2="195.21" y2="614.2"/><line x1="200.25" y1="611.4" x2="200.25" y2="609.5"/><line x1="205.30" y1="611.4" x2="205.30" y2="604.8"/><line x1="210.34" y1="611.4" x2="210.34" y2="604.1"/><line x1="215.39" y1="611.4" x2="215.39" y2="602.9"/><line x1="220.44" y1="611.4" x2="220.44" y2="601.3"/><line x1="225.48" y1="611.4" x2="225.48" y2="604.1"/><line x1="230.53" y1="611.4" x2="230.53" y2="606.9"/><line x1="235.57" y1="611.4" x2="235.57" y2="610.6"/><line x1="240.62" y1="611.4" x2="240.62" y2="614.0"/><line x1="245.66" y1="611.4" x2="245.66" y2="618.9"/><line x1="250.70" y1="611.4" x2="250.70" y2="623.2"/><line x1="255.75" y1="611.4" x2="255.75" y2="622.4"/><line x1="260.80" y1="611.4" x2="260.80" y2="624.6"/><line x1="265.84" y1="611.4" x2="265.84" y2="623.8"/><line x1="270.88" y1="611.4" x2="270.88" y2="617.9"/><line x1="275.93" y1="611.4" x2="275.93" y2="613.5"/><line x1="280.98" y1="611.4" x2="280.98" y2="606.0"/><line x1="286.02" y1="611.4" x2="286.02" y2="599.9"/><line x1="291.06" y1="611.4" x2="291.06" y2="596.1"/><line x1="296.11" y1="611.4" x2="296.11" y2="592.5"/><line x1="301.15" y1="611.4" x2="301.15" y2="591.8"/><line x1="306.20" y1="611.4" x2="306.20" y2="596.5"/><line x1="311.25" y1="611.4" x2="311.25" y2="597.6"/><line x1="316.29" y1="611.4" x2="316.29" y2="597.0"/><line x1="321.33" y1="611.4" x2="321.33" y2="595.8"/><line x1="326.38" y1="611.4" x2="326.38" y2="592.2"/><line x1="331.43" y1="611.4" x2="331.43" y2="589.8"/><line x1="336.47" y1="611.4" x2="336.47" y2="589.2"/><line x1="341.51" y1="611.4" x2="341.51" y2="590.1"/><line x1="346.56" y1="611.4" x2="346.56" y2="591.7"/><line x1="351.61" y1="611.4" x2="351.61" y2="594.1"/><line x1="356.65" y1="611.4" x2="356.65" y2="598.6"/><line x1="361.69" y1="611.4" x2="361.69" y2="602.5"/><line x1="366.74" y1="611.4" x2="366.74" y2="602.5"/><line x1="371.78" y1="611.4" x2="371.78" y2="601.4"/><line x1="376.83" y1="611.4" x2="376.83" y2="600.8"/><line x1="381.88" y1="611.4" x2="381.88" y2="600.5"/><line x1="386.92" y1="611.4" x2="386.92" y2="602.2"/><line x1="391.96" y1="611.4" x2="391.96" y2="603.5"/><line x1="397.01" y1="611.4" x2="397.01" y2="604.3"/><line x1="402.06" y1="611.4" x2="402.06" y2="604.7"/><line x1="407.10" y1="611.4" x2="407.10" y2="604.8"/><line x1="412.14" y1="611.4" x2="412.14" y2="607.8"/><line x1="417.19" y1="611.4" x2="417.19" y2="610.0"/><line x1="422.24" y1="611.4" x2="422.24" y2="609.4"/><line x1="427.28" y1="611.4" x2="427.28" y2="610.4"/><line x1="432.32" y1="611.4" x2="432.32" y2="611.9"/><line x1="437.37" y1="611.4" x2="437.37" y2="614.8"/><line x1="442.42" y1="611.4" x2="442.42" y2="618.3"/><line x1="447.46" y1="611.4" x2="447.46" y2="621.9"/><line x1="452.50" y1="611.4" x2="452.50" y2="623.8"/><line x1="457.55" y1="611.4" x2="457.55" y2="623.3"/><line x1="462.59" y1="611.4" x2="462.59" y2="621.9"/><line x1="467.64" y1="611.4" x2="467.64" y2="618.2"/><line x1="472.69" y1="611.4" x2="472.69" y2="614.0"/><line x1="477.73" y1="611.4" x2="477.73" y2="609.4"/><line x1="482.77" y1="611.4" x2="482.77" y2="607.2"/><line x1="487.82" y1="611.4" x2="487.82" y2="605.2"/><line x1="492.87" y1="611.4" x2="492.87" y2="601.1"/><line x1="497.91" y1="611.4" x2="497.91" y2="598.0"/><line x1="502.95" y1="611.4" x2="502.95" y2="595.5"/><line x1="508.00" y1="611.4" x2="508.00" y2="596.2"/><line x1="513.05" y1="611.4" x2="513.05" y2="598.6"/><line x1="518.09" y1="611.4" x2="518.09" y2="601.6"/><line x1="523.13" y1="611.4" x2="523.13" y2="604.3"/><line x1="528.18" y1="611.4" x2="528.18" y2="606.6"/><line x1="533.23" y1="611.4" x2="533.23" y2="610.9"/><line x1="538.27" y1="611.4" x2="538.27" y2="616.2"/><line x1="543.31" y1="611.4" x2="543.31" y2="620.6"/><line x1="548.36" y1="611.4" x2="548.36" y2="624.0"/><line x1="553.40" y1="611.4" x2="553.40" y2="625.7"/><line x1="558.45" y1="611.4" x2="558.45" y2="626.1"/><line x1="563.50" y1="611.4" x2="563.50" y2="624.1"/><line x1="568.54" y1="611.4" x2="568.54" y2="621.9"/><line x1="573.59" y1="611.4" x2="573.59" y2="621.0"/><line x1="578.63" y1="611.4" x2="578.63" y2="620.6"/><line x1="583.67" y1="611.4" x2="583.67" y2="619.3"/><line x1="588.72" y1="611.4" x2="588.72" y2="618.8"/><line x1="593.76" y1="611.4" x2="593.76" y2="618.5"/><line x1="598.81" y1="611.4" x2="598.81" y2="618.2"/><line x1="603.86" y1="611.4" x2="603.86" y2="617.6"/><line x1="608.90" y1="611.4" x2="608.90" y2="616.5"/><line x1="613.94" y1="611.4" x2="613.94" y2="613.4"/><line x1="618.99" y1="611.4" x2="618.99" y2="609.3"/><line x1="624.03" y1="611.4" x2="624.03" y2="605.3"/><line x1="629.08" y1="611.4" x2="629.08" y2="601.8"/><line x1="634.12" y1="611.4" x2="634.12" y2="600.2"/><line x1="639.17" y1="611.4" x2="639.17" y2="600.5"/><line x1="644.22" y1="611.4" x2="644.22" y2="602.0"/><line x1="649.26" y1="611.4" x2="649.26" y2="604.1"/><line x1="654.30" y1="611.4" x2="654.30" y2="606.7"/><line x1="659.35" y1="611.4" x2="659.35" y2="608.6"/><line x1="664.39" y1="611.4" x2="664.39" y2="607.9"/><line x1="669.44" y1="611.4" x2="669.44" y2="608.9"/><line x1="674.49" y1="611.4" x2="674.49" y2="611.9"/><line x1="679.53" y1="611.4" x2="679.53" y2="616.8"/><line x1="684.58" y1="611.4" x2="684.58" y2="621.5"/><line x1="689.62" y1="611.4" x2="689.62" y2="625.9"/><line x1="694.66" y1="611.4" x2="694.66" y2="627.6"/><line x1="699.71" y1="611.4" x2="699.71" y2="628.8"/><line x1="704.75" y1="611.4" x2="704.75" y2="628.6"/><line x1="709.80" y1="611.4" x2="709.80" y2="620.9"/><line x1="714.85" y1="611.4" x2="714.85" y2="614.3"/><line x1="719.89" y1="611.4" x2="719.89" y2="609.0"/><line x1="724.93" y1="611.4" x2="724.93" y2="605.5"/><line x1="729.98" y1="611.4" x2="729.98" y2="610.9"/><line x1="735.02" y1="611.4" x2="735.02" y2="618.0"/><line x1="740.07" y1="611.4" x2="740.07" y2="621.4"/><line x1="745.12" y1="611.4" x2="745.12" y2="620.0"/><line x1="750.16" y1="611.4" x2="750.16" y2="616.6"/><line x1="755.21" y1="611.4" x2="755.21" y2="613.8"/><line x1="760.25" y1="611.4" x2="760.25" y2="612.5"/><line x1="765.29" y1="611.4" x2="765.29" y2="614.1"/><line x1="770.34" y1="611.4" x2="770.34" y2="616.0"/><line x1="775.38" y1="611.4" x2="775.38" y2="617.4"/><line x1="780.43" y1="611.4" x2="780.43" y2="614.8"/><line x1="785.48" y1="611.4" x2="785.48" y2="608.9"/><line x1="790.52" y1="611.4" x2="790.52" y2="604.1"/><line x1="795.56" y1="611.4" x2="795.56" y2="601.5"/><line x1="800.61" y1="611.4" x2="800.61" y2="597.8"/><line x1="805.65" y1="611.4" x2="805.65" y2="596.4"/><line x1="810.70" y1="611.4" x2="810.70" y2="595.9"/><line x1="815.75" y1="611.4" x2="815.75" y2="596.4"/><line x1="820.79" y1="611.4" x2="820.79" y2="596.4"/><line x1="825.84" y1="611.4" x2="825.84" y2="596.4"/><line x1="830.88" y1="611.4" x2="830.88" y2="597.0"/><line x1="835.92" y1="611.4" x2="835.92" y2="597.6"/><line x1="840.97" y1="611.4" x2="840.97" y2="598.2"/><line x1="846.01" y1="611.4" x2="846.01" y2="598.9"/><line x1="851.06" y1="611.4" x2="851.06" y2="600.0"/><line x1="856.11" y1="611.4" x2="856.11" y2="601.2"/><line x1="861.15" y1="611.4" x2="861.15" y2="602.5"/><line x1="866.19" y1="611.4" x2="866.19" y2="606.3"/><line x1="871.24" y1="611.4" x2="871.24" y2="609.4"/><line x1="876.28" y1="611.4" x2="876.28" y2="610.0"/><line x1="881.33" y1="611.4" x2="881.33" y2="609.5"/><line x1="886.38" y1="611.4" x2="886.38" y2="608.9"/><line x1="891.42" y1="611.4" x2="891.42" y2="605.4"/><line x1="896.47" y1="611.4" x2="896.47" y2="603.4"/><line x1="901.51" y1="611.4" x2="901.51" y2="602.1"/><line x1="906.55" y1="611.4" x2="906.55" y2="601.6"/><line x1="911.60" y1="611.4" x2="911.60" y2="601.8"/><line x1="916.64" y1="611.4" x2="916.64" y2="603.3"/><line x1="921.69" y1="611.4" x2="921.69" y2="607.5"/><line x1="926.74" y1="611.4" x2="926.74" y2="610.9"/><line x1="931.78" y1="611.4" x2="931.78" y2="613.5"/><line x1="936.82" y1="611.4" x2="936.82" y2="615.5"/><line x1="941.87" y1="611.4" x2="941.87" y2="615.3"/><line x1="946.91" y1="611.4" x2="946.91" y2="615.6"/><line x1="951.96" y1="611.4" x2="951.96" y2="616.0"/><line x1="957.00" y1="611.4" x2="957.00" y2="616.6"/><line x1="962.05" y1="611.4" x2="962.05" y2="617.1"/><line x1="967.10" y1="611.4" x2="967.10" y2="616.6"/><line x1="972.14" y1="611.4" x2="972.14" y2="616.7"/><line x1="977.18" y1="611.4" x2="977.18" y2="617.4"/><line x1="982.23" y1="611.4" x2="982.23" y2="616.1"/><line x1="987.27" y1="611.4" x2="987.27" y2="615.1"/><line x1="992.32" y1="611.4" x2="992.32" y2="614.4"/><line x1="997.37" y1="611.4" x2="997.37" y2="613.0"/><line x1="1002.41" y1="611.4" x2="1002.41" y2="613.1"/><line x1="1007.46" y1="611.4" x2="1007.46" y2="614.4"/><line x1="1012.50" y1="611.4" x2="1012.50" y2="617.6"/><line x1="1017.54" y1="611.4" x2="1017.54" y2="620.1"/><line x1="1022.59" y1="611.4" x2="1022.59" y2="622.2"/><line x1="1027.63" y1="611.4" x2="1027.63" y2="623.5"/><line x1="1032.68" y1="611.4" x2="1032.68" y2="623.2"/><line x1="1037.72" y1="611.4" x2="1037.72" y2="622.4"/><line x1="1042.77" y1="611.4" x2="1042.77" y2="620.7"/><line x1="1047.82" y1="611.4" x2="1047.82" y2="617.2"/><line x1="1052.86" y1="611.4" x2="1052.86" y2="613.0"/><line x1="1057.90" y1="611.4" x2="1057.90" y2="610.9"/><line x1="1062.95" y1="611.4" x2="1062.95" y2="612.9"/><line x1="1067.99" y1="611.4" x2="1067.99" y2="613.6"/><line x1="1073.04" y1="611.4" x2="1073.04" y2="614.2"/><line x1="1078.09" y1="611.4" x2="1078.09" y2="614.7"/><line x1="1083.13" y1="611.4" x2="1083.13" y2="613.7"/><line x1="1088.17" y1="611.4" x2="1088.17" y2="610.9"/><line x1="1093.22" y1="611.4" x2="1093.22" y2="609.3"/><line x1="1098.26" y1="611.4" x2="1098.26" y2="609.0"/><line x1="1103.31" y1="611.4" x2="1103.31" y2="609.8"/><line x1="1108.36" y1="611.4" x2="1108.36" y2="608.6"/><line x1="1113.40" y1="611.4" x2="1113.40" y2="608.4"/><line x1="1118.44" y1="611.4" x2="1118.44" y2="609.7"/><line x1="1123.49" y1="611.4" x2="1123.49" y2="611.9"/><line x1="1128.54" y1="611.4" x2="1128.54" y2="610.9"/><line x1="1133.58" y1="611.4" x2="1133.58" y2="610.9"/><line x1="1138.62" y1="611.4" x2="1138.62" y2="610.1"/><line x1="1143.67" y1="611.4" x2="1143.67" y2="608.7"/><line x1="1148.71" y1="611.4" x2="1148.71" y2="607.7"/><line x1="1153.76" y1="611.4" x2="1153.76" y2="606.9"/><line x1="1158.81" y1="611.4" x2="1158.81" y2="606.3"/><line x1="1163.85" y1="611.4" x2="1163.85" y2="605.9"/><line x1="1168.89" y1="611.4" x2="1168.89" y2="606.9"/><line x1="1173.94" y1="611.4" x2="1173.94" y2="607.8"/><line x1="1178.98" y1="611.4" x2="1178.98" y2="609.0"/><line x1="1184.03" y1="611.4" x2="1184.03" y2="610.8"/><line x1="1189.08" y1="611.4" x2="1189.08" y2="614.3"/><line x1="1194.12" y1="611.4" x2="1194.12" y2="619.0"/><line x1="1199.16" y1="611.4" x2="1199.16" y2="621.9"/><line x1="1204.21" y1="611.4" x2="1204.21" y2="623.2"/><line x1="1209.25" y1="611.4" x2="1209.25" y2="622.0"/><line x1="1214.30" y1="611.4" x2="1214.30" y2="620.0"/><line x1="1219.35" y1="611.4" x2="1219.35" y2="615.0"/><line x1="1224.39" y1="611.4" x2="1224.39" y2="611.9"/><line x1="1229.43" y1="611.4" x2="1229.43" y2="609.6"/><line x1="1234.48" y1="611.4" x2="1234.48" y2="608.2"/><line x1="1239.53" y1="611.4" x2="1239.53" y2="607.1"/><line x1="1244.57" y1="611.4" x2="1244.57" y2="607.6"/><line x1="1249.62" y1="611.4" x2="1249.62" y2="608.0"/><line x1="1254.66" y1="611.4" x2="1254.66" y2="608.3"/><line x1="1259.70" y1="611.4" x2="1259.70" y2="608.3"/><line x1="1264.75" y1="611.4" x2="1264.75" y2="608.2"/><line x1="1269.80" y1="611.4" x2="1269.80" y2="609.3"/><line x1="1274.84" y1="611.4" x2="1274.84" y2="609.8"/><line x1="1279.88" y1="611.4" x2="1279.88" y2="610.0"/><line x1="1284.93" y1="611.4" x2="1284.93" y2="611.9"/><line x1="1289.97" y1="611.4" x2="1289.97" y2="612.4"/><line x1="1295.02" y1="611.4" x2="1295.02" y2="612.6"/><line x1="1300.07" y1="611.4" x2="1300.07" y2="613.5"/><line x1="1305.11" y1="611.4" x2="1305.11" y2="615.3"/><line x1="1310.15" y1="611.4" x2="1310.15" y2="613.5"/><line x1="1315.20" y1="611.4" x2="1315.20" y2="610.9"/><line x1="1320.24" y1="611.4" x2="1320.24" y2="607.0"/><line x1="1325.29" y1="611.4" x2="1325.29" y2="602.0"/><line x1="1330.34" y1="611.4" x2="1330.34" y2="598.8"/><line x1="1335.38" y1="611.4" x2="1335.38" y2="597.2"/><line x1="1340.42" y1="611.4" x2="1340.42" y2="596.2"/><line x1="1345.47" y1="611.4" x2="1345.47" y2="596.2"/><line x1="1350.51" y1="611.4" x2="1350.51" y2="596.2"/><line x1="1355.56" y1="611.4" x2="1355.56" y2="596.9"/><line x1="1360.61" y1="611.4" x2="1360.61" y2="597.6"/><line x1="1365.65" y1="611.4" x2="1365.65" y2="598.9"/><line x1="1370.69" y1="611.4" x2="1370.69" y2="599.9"/><line x1="1375.74" y1="611.4" x2="1375.74" y2="602.3"/><line x1="1380.79" y1="611.4" x2="1380.79" y2="604.2"/><line x1="1385.83" y1="611.4" x2="1385.83" y2="605.9"/><line x1="1390.88" y1="611.4" x2="1390.88" y2="608.2"/><line x1="1395.92" y1="611.4" x2="1395.92" y2="610.1"/><line x1="1400.96" y1="611.4" x2="1400.96" y2="610.9"/><line x1="1406.01" y1="611.4" x2="1406.01" y2="611.9"/><line x1="1411.06" y1="611.4" x2="1411.06" y2="612.2"/><line x1="1416.10" y1="611.4" x2="1416.10" y2="612.4"/><line x1="1421.14" y1="611.4" x2="1421.14" y2="612.9"/><line x1="1426.19" y1="611.4" x2="1426.19" y2="613.3"/><line x1="1431.23" y1="611.4" x2="1431.23" y2="614.4"/><line x1="1436.28" y1="611.4" x2="1436.28" y2="614.8"/><line x1="1441.33" y1="611.4" x2="1441.33" y2="614.8"/><line x1="1446.37" y1="611.4" x2="1446.37" y2="616.3"/><line x1="1451.41" y1="611.4" x2="1451.41" y2="616.0"/><line x1="1456.46" y1="611.4" x2="1456.46" y2="616.4"/><line x1="1461.50" y1="611.4" x2="1461.50" y2="617.2"/><line x1="1466.55" y1="611.4" x2="1466.55" y2="617.3"/><line x1="1471.60" y1="611.4" x2="1471.60" y2="617.0"/><line x1="1476.64" y1="611.4" x2="1476.64" y2="616.4"/><line x1="1481.68" y1="611.4" x2="1481.68" y2="617.3"/><line x1="1486.73" y1="611.4" x2="1486.73" y2="617.3"/><line x1="1491.78" y1="611.4" x2="1491.78" y2="614.5"/><line x1="1496.82" y1="611.4" x2="1496.82" y2="612.3"/><line x1="1501.87" y1="611.4" x2="1501.87" y2="610.9"/><line x1="1506.91" y1="611.4" x2="1506.91" y2="612.8"/><line x1="1511.95" y1="611.4" x2="1511.95" y2="616.0"/><line x1="1517.00" y1="611.4" x2="1517.00" y2="616.0"/><line x1="1522.05" y1="611.4" x2="1522.05" y2="616.2"/><line x1="1527.09" y1="611.4" x2="1527.09" y2="616.0"/><line x1="1532.13" y1="611.4" x2="1532.13" y2="617.6"/><line x1="1537.18" y1="611.4" x2="1537.18" y2="618.8"/><line x1="1542.22" y1="611.4" x2="1542.22" y2="619.6"/><line x1="1547.27" y1="611.4" x2="1547.27" y2="617.9"/><line x1="1552.32" y1="611.4" x2="1552.32" y2="616.0"/><line x1="1557.36" y1="611.4" x2="1557.36" y2="613.7"/><line x1="1562.40" y1="611.4" x2="1562.40" y2="612.1"/><line x1="1567.45" y1="611.4" x2="1567.45" y2="610.8"/><line x1="1572.49" y1="611.4" x2="1572.49" y2="610.3"/><line x1="1577.54" y1="611.4" x2="1577.54" y2="609.9"/><line x1="1582.59" y1="611.4" x2="1582.59" y2="609.8"/><line x1="1587.63" y1="611.4" x2="1587.63" y2="607.6"/><line x1="1592.67" y1="611.4" x2="1592.67" y2="606.1"/><line x1="1597.72" y1="611.4" x2="1597.72" y2="605.8"/><line x1="1602.76" y1="611.4" x2="1602.76" y2="608.3"/><line x1="1607.81" y1="611.4" x2="1607.81" y2="610.4"/><line x1="1612.86" y1="611.4" x2="1612.86" y2="611.9"/><line x1="1617.90" y1="611.4" x2="1617.90" y2="609.4"/><line x1="1622.94" y1="611.4" x2="1622.94" y2="608.2"/><line x1="1627.99" y1="611.4" x2="1627.99" y2="607.9"/><line x1="1633.04" y1="611.4" x2="1633.04" y2="609.5"/><line x1="1638.08" y1="611.4" x2="1638.08" y2="610.7"/><line x1="1643.12" y1="611.4" x2="1643.12" y2="610.9"/><line x1="1648.17" y1="611.4" x2="1648.17" y2="611.9"/><line x1="1653.21" y1="611.4" x2="1653.21" y2="612.2"/><line x1="1658.26" y1="611.4" x2="1658.26" y2="612.8"/><line x1="1663.31" y1="611.4" x2="1663.31" y2="613.3"/><line x1="1668.35" y1="611.4" x2="1668.35" y2="613.3"/><line x1="1673.39" y1="611.4" x2="1673.39" y2="613.1"/><line x1="1678.44" y1="611.4" x2="1678.44" y2="612.1"/><line x1="1683.48" y1="611.4" x2="1683.48" y2="612.0"/><line x1="1688.53" y1="611.4" x2="1688.53" y2="613.4"/><line x1="1693.58" y1="611.4" x2="1693.58" y2="615.6"/><line x1="1698.62" y1="611.4" x2="1698.62" y2="614.7"/><line x1="1703.66" y1="611.4" x2="1703.66" y2="613.8"/><line x1="1708.71" y1="611.4" x2="1708.71" y2="613.8"/><line x1="1713.75" y1="611.4" x2="1713.75" y2="612.2"/><line x1="1718.80" y1="611.4" x2="1718.80" y2="610.0"/><line x1="1723.85" y1="611.4" x2="1723.85" y2="608.2"/><line x1="1728.89" y1="611.4" x2="1728.89" y2="607.3"/><line x1="1733.93" y1="611.4" x2="1733.93" y2="607.1"/><line x1="1738.98" y1="611.4" x2="1738.98" y2="607.1"/><line x1="1744.02" y1="611.4" x2="1744.02" y2="608.3"/><line x1="1749.07" y1="611.4" x2="1749.07" y2="609.4"/><line x1="1754.12" y1="611.4" x2="1754.12" y2="610.5"/><line x1="1759.16" y1="611.4" x2="1759.16" y2="611.9"/><line x1="1764.20" y1="611.4" x2="1764.20" y2="613.2"/><line x1="1769.25" y1="611.4" x2="1769.25" y2="614.4"/><line x1="1774.30" y1="611.4" x2="1774.30" y2="615.8"/><line x1="1779.34" y1="611.4" x2="1779.34" y2="617.6"/><line x1="1784.38" y1="611.4" x2="1784.38" y2="618.5"/><line x1="1789.43" y1="611.4" x2="1789.43" y2="619.0"/><line x1="1794.47" y1="611.4" x2="1794.47" y2="618.7"/><line x1="1799.52" y1="611.4" x2="1799.52" y2="612.7"/><line x1="1804.57" y1="611.4" x2="1804.57" y2="608.3"/><line x1="1809.61" y1="611.4" x2="1809.61" y2="606.1"/><line x1="1814.65" y1="611.4" x2="1814.65" y2="605.3"/><line x1="1819.70" y1="611.4" x2="1819.70" y2="605.0"/><line x1="1824.74" y1="611.4" x2="1824.74" y2="604.6"/><line x1="1829.79" y1="611.4" x2="1829.79" y2="604.0"/><line x1="1834.84" y1="611.4" x2="1834.84" y2="602.8"/><line x1="1839.88" y1="611.4" x2="1839.88" y2="601.7"/><line x1="1844.92" y1="611.4" x2="1844.92" y2="602.1"/></g>
<polyline points="5.5,566.1 12.5,564.0 20.1,565.1 25.1,568.1 32.6,582.6 40.1,591.4 50.1,607.7 57.6,622.7 65.2,632.7 75.2,634.0 85.2,632.2 95.2,630.2 102.8,626.5 110.3,620.7 114.0,619.4 120.3,625.2 130.3,641.5 140.4,651.5 150.4,660.8 160.4,667.8 170.4,677.8 180.5,683.3 185.5,682.8 195.5,675.3 205.5,662.8 213.0,659.8 220.6,654.5 228.1,656.0 235.6,660.3 240.6,664.0 250.6,677.8 255.6,680.3 261.9,687.4 265.7,687.4 275.7,679.1 285.7,661.5 295.7,646.5 300.8,641.5 305.8,642.7 313.3,639.7 320.8,632.2 330.8,616.4 338.3,607.7 345.9,601.4 353.4,598.4 360.9,600.6 365.9,597.6 373.4,591.4 381.0,586.4 391.0,585.1 401.0,583.3 407.3,582.1 416.0,586.4 423.6,585.1 431.1,587.6 438.6,593.9 446.1,603.9 453.6,611.4 461.2,613.9 470.0,611.4 477.5,602.6 487.5,595.1 495.1,585.1 502.6,576.3 508.8,573.3 515.1,573.3 522.6,574.6 528.9,575.6 535.2,582.6 542.7,591.4 550.2,601.4 557.7,607.7 565.2,609.7 570.3,609.7 577.8,612.7 585.3,613.9 592.8,616.4 600.3,618.4 607.8,619.4 615.4,615.9 622.9,607.7 630.4,599.6 636.7,595.9 642.9,595.1 650.5,595.9 658.0,598.4 664.2,596.9 670.5,597.6 675.5,600.6 683.0,612.7 690.6,625.2 698.1,634.0 704.8,638.5 710.6,632.7 718.1,623.9 724.4,616.9 729.4,622.7 735.7,634.0 740.7,639.0 745.7,639.0 752.0,636.5 758.2,633.5 763.2,634.7 769.5,639.0 775.3,642.0 780.8,639.7 785.8,632.7 790.8,626.5 795.8,621.4 800.8,613.9 808.3,606.4 815.9,601.4 825.9,593.9 835.9,588.9 845.9,583.8 853.5,581.3 860.5,579.3 866.0,582.1 872.3,585.1 878.5,584.6 886.0,582.6 892.3,576.3 901.1,569.6 908.6,565.1 913.6,563.3 917.4,563.8 922.4,567.1 928.6,570.8 936.2,576.3 940.0,577.1 947.5,580.1 955.0,583.3 962.6,586.4 970.1,587.6 977.6,590.6 985.1,589.6 992.6,589.6 1000.2,588.1 1006.4,591.4 1012.7,597.6 1020.2,605.2 1027.7,611.4 1035.2,615.2 1042.8,616.4 1047.8,614.7 1052.8,611.4 1057.8,609.7 1062.8,612.2 1070.3,614.7 1077.8,615.9 1084.1,614.7 1090.4,610.7 1096.6,608.4 1102.9,608.9 1110.4,606.4 1116.7,606.4 1123.0,609.7 1129.2,608.9 1135.5,608.4 1143.0,605.2 1153.0,601.4 1163.1,597.6 1173.1,597.1 1180.6,597.6 1186.9,600.1 1193.1,607.7 1200.7,615.2 1206.9,619.4 1214.4,619.4 1222.0,613.9 1230.7,609.7 1239.5,605.7 1248.3,604.6 1257.0,603.9 1264.6,602.6 1272.1,603.4 1279.6,603.1 1285.9,605.7 1293.4,606.4 1299.6,608.2 1305.9,611.4 1312.2,608.9 1317.2,606.4 1323.5,596.4 1331.0,586.4 1341.0,576.3 1351.0,568.8 1361.1,563.0 1371.1,559.5 1380.0,560.0 1387.5,560.8 1397.5,563.8 1405.1,564.5 1415.1,565.6 1425.1,567.6 1432.6,570.6 1441.4,572.6 1446.4,575.6 1452.7,577.1 1462.7,581.8 1470.2,583.8 1476.5,585.1 1482.8,588.1 1487.3,588.9 1494.0,585.1 1501.6,582.6 1506.6,584.6 1511.6,588.9 1517.8,590.9 1524.1,593.1 1527.9,593.9 1534.1,598.4 1541.7,602.6 1550.4,602.6 1557.9,600.1 1566.7,597.1 1574.2,596.4 1583.0,595.1 1590.5,590.1 1596.8,587.6 1603.1,589.6 1609.3,591.9 1614.3,592.1 1620.6,588.1 1628.1,586.4 1635.6,588.1 1643.2,588.9 1650.7,590.1 1658.2,591.4 1665.7,592.6 1673.2,592.6 1679.5,591.4 1685.8,592.1 1693.3,597.1 1700.8,597.1 1705.8,597.1 1709.6,598.1 1715.8,595.9 1723.4,591.4 1729.6,588.9 1738.4,587.1 1747.2,588.1 1755.9,589.6 1763.5,592.6 1772.2,596.4 1781.0,602.6 1788.5,606.4 1794.0,608.4 1801.1,600.1 1808.6,593.9 1816.1,590.1 1823.6,587.1 1831.1,583.8 1838.6,578.3 1844.9,575.8" fill="none" stroke="#3c8ed8" stroke-width="1.2" stroke-linejoin="round" />
<polyline points="5.5,569.3 15.0,567.1 25.1,567.6 35.1,572.6 45.1,581.3 55.1,592.6 65.2,606.4 75.2,617.7 85.2,623.9 95.2,627.0 105.3,626.5 115.3,624.7 125.3,627.2 135.3,634.0 145.4,641.5 155.4,650.3 165.4,657.8 175.4,665.3 185.5,671.1 195.5,672.8 205.5,669.6 215.5,666.6 225.6,662.8 235.6,661.0 241.9,661.5 250.6,666.1 260.7,672.8 270.7,676.6 278.2,676.6 285.7,672.8 295.7,665.3 305.8,657.8 315.8,651.5 325.8,643.2 335.8,632.7 345.9,621.4 355.9,612.7 365.9,606.4 375.9,600.1 386.0,595.1 396.0,591.4 406.0,588.9 416.0,587.6 426.1,587.1 436.1,588.9 446.1,593.9 456.1,600.1 466.2,604.6 470.0,606.4 480.0,603.9 490.1,600.1 500.1,593.9 510.1,587.6 520.1,582.6 528.9,580.1 535.2,580.6 542.7,582.6 550.2,587.6 557.7,592.6 565.2,597.6 575.3,602.1 585.3,606.4 595.3,610.2 605.3,613.2 612.9,614.7 620.4,613.9 630.4,610.2 640.4,605.9 650.5,602.6 660.5,600.6 668.0,600.1 674.3,599.4 680.5,602.1 688.0,607.7 695.6,614.7 703.1,620.2 709.3,623.9 716.9,625.2 723.1,623.4 728.1,623.4 735.7,626.5 743.2,629.7 750.7,632.2 758.2,632.7 765.7,633.5 773.3,635.7 780.8,636.5 788.3,635.2 795.8,631.5 805.8,623.9 815.9,616.4 825.9,608.9 835.9,602.6 845.9,596.4 856.0,590.9 863.5,587.6 873.5,586.4 881.0,585.9 888.5,584.3 896.1,581.3 906.1,576.3 913.6,572.6 921.1,570.6 926.1,570.1 933.7,571.3 940.0,573.3 952.5,577.6 965.1,581.3 977.6,584.6 990.1,586.4 1002.7,587.6 1012.7,591.4 1022.7,596.4 1032.7,602.1 1042.8,607.2 1050.3,609.7 1060.3,610.2 1070.3,612.2 1080.4,612.7 1090.4,612.2 1100.4,610.7 1110.4,609.7 1120.5,608.9 1130.5,609.4 1140.5,608.2 1150.5,606.4 1160.6,603.9 1170.6,601.4 1180.6,599.6 1188.1,599.6 1195.6,601.4 1203.2,605.2 1210.7,609.7 1218.2,612.2 1225.7,612.7 1233.2,611.4 1240.8,609.7 1250.8,607.7 1260.8,606.4 1270.8,605.2 1280.9,604.6 1290.9,605.2 1300.9,606.4 1308.4,607.7 1315.9,607.7 1323.5,604.6 1333.5,597.6 1343.5,589.6 1353.5,582.1 1363.6,575.1 1373.6,569.6 1380.0,567.6 1390.0,565.1 1400.1,564.3 1410.1,564.3 1420.1,565.1 1430.1,566.8 1440.2,568.8 1450.2,571.8 1460.2,575.1 1470.2,578.1 1480.3,581.3 1487.8,583.1 1495.3,583.3 1502.8,583.1 1510.3,583.8 1520.4,587.1 1530.4,590.1 1540.4,593.9 1550.4,597.1 1557.9,598.1 1566.7,597.6 1575.5,597.6 1585.5,596.4 1595.5,593.9 1603.1,592.6 1610.6,592.1 1618.1,591.9 1625.6,590.1 1633.1,589.4 1640.7,588.9 1650.7,589.6 1660.7,590.1 1670.7,590.9 1680.8,590.9 1688.3,591.9 1695.8,593.4 1703.3,594.6 1710.8,595.9 1718.3,595.6 1725.9,593.9 1735.9,591.9 1745.9,590.6 1755.9,590.1 1766.0,591.4 1773.5,593.1 1781.0,595.9 1788.5,598.9 1794.8,600.6 1803.6,600.6 1811.1,598.1 1821.1,594.6 1831.1,591.4 1838.6,588.1 1844.9,585.1" fill="none" stroke="#e8701a" stroke-width="1.2" stroke-linejoin="round" />
</g>
<g shape-rendering="crispEdges">
<rect x="0" y="702" width="1853" height="14" fill="#fff"/>
<rect x="0" y="717" width="1853" height="14" fill="url(#gyr)"/>
<rect x="0" y="701" width="1853" height="1" fill="#000"/>
<rect x="0" y="716" width="1853" height="1" fill="#000"/>
<rect x="18" y="701" width="1" height="16" fill="#000"/>
<rect x="119" y="701" width="1" height="30" fill="#000"/>
<rect x="220" y="701" width="1" height="16" fill="#000"/>
<rect x="326" y="701" width="1" height="16" fill="#000"/>
<rect x="432" y="701" width="1" height="16" fill="#000"/>
<rect x="538" y="701" width="1" height="16" fill="#000"/>
<rect x="644" y="701" width="1" height="16" fill="#000"/>
<rect x="755" y="701" width="1" height="16" fill="#000"/>
<rect x="861" y="701" width="1" height="16" fill="#000"/>
<rect x="977" y="701" width="1" height="16" fill="#000"/>
<rect x="1088" y="701" width="1" height="16" fill="#000"/>
<rect x="1189" y="701" width="1" height="16" fill="#000"/>
<rect x="1300" y="701" width="1" height="16" fill="#000"/>
<rect x="1406" y="701" width="1" height="30" fill="#000"/>
<rect x="1517" y="701" width="1" height="16" fill="#000"/>
<rect x="1617" y="701" width="1" height="16" fill="#000"/>
<rect x="1733" y="701" width="1" height="16" fill="#000"/>
<rect x="1824" y="701" width="1" height="16" fill="#000"/>
</g>
<text x="68.2" y="713" text-anchor="middle">dec.</text>
<text x="169.2" y="713" text-anchor="middle">jan.</text>
<text x="272.6" y="713" text-anchor="middle">febr.</text>
<text x="378.4" y="713" text-anchor="middle">márc.</text>
<text x="484.5" y="713" text-anchor="middle">ápr.</text>
<text x="590.6" y="713" text-anchor="middle">máj.</text>
<text x="699.2" y="713" text-anchor="middle">jún.</text>
<text x="807.6" y="713" text-anchor="middle">júl.</text>
<text x="918.5" y="713" text-anchor="middle">aug.</text>
<text x="1032.2" y="713" text-anchor="middle">szept.</text>
<text x="1138.2" y="713" text-anchor="middle">okt.</text>
<text x="1244.2" y="713" text-anchor="middle">nov.</text>
<text x="1352.6" y="713" text-anchor="middle">dec.</text>
<text x="1461.1" y="713" text-anchor="middle">jan.</text>
<text x="1566.7" y="713" text-anchor="middle">febr.</text>
<text x="1674.5" y="713" text-anchor="middle">márc.</text>
<text x="1778.1" y="713" text-anchor="middle">ápr.</text>
<text x="61.8" y="728" text-anchor="middle">2015</text>
<text x="762.2" y="728" text-anchor="middle">2016</text>
<text x="1628.8" y="728" text-anchor="middle">2017</text>
<g shape-rendering="crispEdges">
<rect x="1853" y="0" width="1" height="731" fill="#000"/>
<rect x="1854" y="7" width="3" height="1" fill="#000"/>
<rect x="1854" y="20" width="3" height="1" fill="#000"/>
<rect x="1854" y="32" width="3" height="1" fill="#000"/>
<rect x="1854" y="44" width="3" height="1" fill="#000"/>
<rect x="1854" y="56" width="5" height="1" fill="#000"/>
<rect x="1854" y="68" width="3" height="1" fill="#000"/>
<rect x="1854" y="80" width="3" height="1" fill="#000"/>
<rect x="1854" y="92" width="3" height="1" fill="#000"/>
<rect x="1854" y="105" width="3" height="1" fill="#000"/>
<rect x="1854" y="117" width="5" height="1" fill="#000"/>
<rect x="1854" y="129" width="3" height="1" fill="#000"/>
<rect x="1854" y="141" width="3" height="1" fill="#000"/>
<rect x="1854" y="153" width="3" height="1" fill="#000"/>
<rect x="1854" y="165" width="3" height="1" fill="#000"/>
<rect x="1854" y="177" width="5" height="1" fill="#000"/>
<rect x="1854" y="190" width="3" height="1" fill="#000"/>
<rect x="1854" y="202" width="3" height="1" fill="#000"/>
<rect x="1854" y="214" width="3" height="1" fill="#000"/>
<rect x="1854" y="226" width="3" height="1" fill="#000"/>
<rect x="1854" y="238" width="5" height="1" fill="#000"/>
<rect x="1854" y="250" width="3" height="1" fill="#000"/>
<rect x="1854" y="262" width="3" height="1" fill="#000"/>
<rect x="1854" y="275" width="3" height="1" fill="#000"/>
<rect x="1854" y="287" width="3" height="1" fill="#000"/>
<rect x="1854" y="299" width="5" height="1" fill="#000"/>
<rect x="1854" y="311" width="3" height="1" fill="#000"/>
<rect x="1854" y="323" width="3" height="1" fill="#000"/>
<rect x="1854" y="335" width="3" height="1" fill="#000"/>
<rect x="1854" y="347" width="3" height="1" fill="#000"/>
<rect x="1854" y="360" width="5" height="1" fill="#000"/>
<rect x="1854" y="372" width="3" height="1" fill="#000"/>
<rect x="1854" y="384" width="3" height="1" fill="#000"/>
<rect x="1854" y="396" width="3" height="1" fill="#000"/>
<rect x="1854" y="408" width="3" height="1" fill="#000"/>
<rect x="1854" y="420" width="5" height="1" fill="#000"/>
<rect x="1854" y="432" width="3" height="1" fill="#000"/>
<rect x="1854" y="445" width="3" height="1" fill="#000"/>
<rect x="1854" y="457" width="3" height="1" fill="#000"/>
<rect x="1854" y="469" width="3" height="1" fill="#000"/>
<rect x="1854" y="481" width="5" height="1" fill="#000"/>
<rect x="1854" y="493" width="3" height="1" fill="#000"/>
<rect x="1854" y="505" width="3" height="1" fill="#000"/>
<rect x="1854" y="518" width="3" height="1" fill="#000"/>
<rect x="1854" y="530" width="3" height="1" fill="#000"/>
<rect x="1854" y="542" width="5" height="1" fill="#000"/>
<rect x="1854" y="552" width="5" height="1" fill="#000"/>
<rect x="1854" y="564" width="3" height="1" fill="#000"/>
<rect x="1854" y="576" width="3" height="1" fill="#000"/>
<rect x="1854" y="587" width="3" height="1" fill="#000"/>
<rect x="1854" y="599" width="3" height="1" fill="#000"/>
<rect x="1854" y="611" width="5" height="1" fill="#000"/>
<rect x="1854" y="623" width="3" height="1" fill="#000"/>
<rect x="1854" y="635" width="3" height="1" fill="#000"/>
<rect x="1854" y="646" width="3" height="1" fill="#000"/>
<rect x="1854" y="658" width="3" height="1" fill="#000"/>
<rect x="1854" y="670" width="5" height="1" fill="#000"/>
<rect x="1854" y="682" width="3" height="1" fill="#000"/>
<rect x="1854" y="693" width="3" height="1" fill="#000"/>
</g>
<clipPath id="caxm"><rect x="1853" y="0" width="70" height="543"/></clipPath>
<g clip-path="url(#caxm)">
<text x="1860.5" y="61.3">12 500,00</text>
<text x="1860.5" y="122.0">12 000,00</text>
<text x="1860.5" y="182.8">11 500,00</text>
<text x="1860.5" y="243.5">11 000,00</text>
<text x="1860.5" y="304.2">10 500,00</text>
<text x="1860.5" y="364.9">10 000,00</text>
<text x="1860.5" y="425.7">9 500,00</text>
<text x="1860.5" y="486.4">9 000,00</text>
<text x="1860.5" y="547.1">8 500,00</text>
</g>
<text x="1860.5" y="557.3">250,00</text>
<text x="1860.5" y="616.2">0,00</text>
<text x="1860.5" y="675.1">-250,00</text>
<rect x="1857.5" y="19.2" width="55.3" height="16.3" fill="#4a4a4a" opacity="0.68"/><path d="M1855.6 17.2 H1910.6 V33.7 H1855.6 V27.3 L1853 25.5 L1855.6 23.7 Z" fill="#f7f7de" stroke="#000" stroke-width="1.1"/><path d="M1856 23.9 L1852.4 25.5 L1856 27.1 Z" fill="#000"/><text x="1858.4" y="29.3" textLength="47.6" lengthAdjust="spacingAndGlyphs" >12 755,21</text>
<rect x="1857.5" y="28.7" width="55.3" height="16.3" fill="#4a4a4a" opacity="0.68"/><path d="M1855.6 26.7 H1910.6 V43.2 H1855.6 V36.8 L1853 35.0 L1855.6 33.2 Z" fill="#f7f7de" stroke="#000" stroke-width="1.1"/><path d="M1856 33.4 L1852.4 35.0 L1856 36.6 Z" fill="#000"/><text x="1858.4" y="38.8" textLength="47.6" lengthAdjust="spacingAndGlyphs" >12 677,95</text>
<rect x="1857.5" y="100.9" width="55.3" height="16.3" fill="#4a4a4a" opacity="0.68"/><path d="M1855.6 98.9 H1910.6 V115.4 H1855.6 V109.0 L1853 107.2 L1855.6 105.4 Z" fill="#f7f7de" stroke="#000" stroke-width="1.1"/><path d="M1856 105.6 L1852.4 107.2 L1856 108.8 Z" fill="#000"/><text x="1858.4" y="111.0" textLength="47.6" lengthAdjust="spacingAndGlyphs" >12 088,57</text>
<rect x="1857.5" y="60.6" width="55.3" height="16.3" fill="#4a4a4a" opacity="0.68"/><path d="M1855.6 58.6 H1910.6 V75.1 H1855.6 V68.7 L1853 66.9 L1855.6 65.1 Z" fill="#f7f7de" stroke="#000" stroke-width="1.1"/><path d="M1856 65.3 L1852.4 66.9 L1856 68.5 Z" fill="#000"/><text x="1858.4" y="70.7" textLength="47.6" lengthAdjust="spacingAndGlyphs" >12 417,77</text>
<rect x="1857.5" y="75.4" width="55.3" height="16.3" fill="#4a4a4a" opacity="0.68"/><path d="M1855.6 73.4 H1910.6 V89.9 H1855.6 V83.5 L1853 81.7 L1855.6 79.9 Z" fill="#f7f7de" stroke="#000" stroke-width="1.1"/><path d="M1856 80.1 L1852.4 81.7 L1856 83.3 Z" fill="#000"/><text x="1858.4" y="85.5" textLength="47.6" lengthAdjust="spacingAndGlyphs" >12 294,32</text>
<g>
<rect x="5" y="13" width="70" height="14" fill="#fff" opacity="0.62"/>
<rect x="80" y="13" width="102" height="14" fill="#fff" opacity="0.62"/>
<rect x="187" y="13" width="96" height="14" fill="#fff" opacity="0.62"/>
<rect x="288" y="13" width="96" height="14" fill="#fff" opacity="0.62"/>
<linearGradient id="gic" x1="0" y1="1" x2="1" y2="0"><stop offset="0" stop-color="#7a7a7a"/><stop offset="0.55" stop-color="#8c8c8c"/><stop offset="1" stop-color="#a6a6a6"/></linearGradient>
<rect x="10" y="8" width="16" height="16" fill="url(#gic)"/><rect x="10.5" y="8.5" width="15" height="15" fill="none" stroke="#707070" stroke-width="1"/>
<text x="12.6" y="18.7" textLength="7.9" lengthAdjust="spacingAndGlyphs" fill="#fff" font-weight="bold" font-size="10.2" >Eq</text>
<text x="21.1" y="22.9" font-size="10" font-weight="bold" fill="#fff" textLength="3.8" lengthAdjust="spacingAndGlyphs" font-family='"Liberation Serif", serif'>i</text>
<text x="30.3" y="20.6" textLength="27.7" lengthAdjust="spacingAndGlyphs" >DAX.I</text><path d="M64.4 14.3 h5.2 l-2.6 3 z" fill="#000"/>
<text x="84.3" y="20.6" textLength="81.1" lengthAdjust="spacingAndGlyphs" >SMA 200 (DAX.I)</text><path d="M171.2 14.3 h5.2 l-2.6 3 z" fill="#000"/>
<text x="191.2" y="20.6" textLength="74.9" lengthAdjust="spacingAndGlyphs" fill="#00a030" >SMA 20 (DAX.I)</text><path d="M272 14.3 h5.2 l-2.6 3 z" fill="#000"/>
<text x="292.5" y="20.6" textLength="74.7" lengthAdjust="spacingAndGlyphs" fill="#f018f0" >SMA 30 (DAX.I)</text><path d="M373.3 14.3 h5.2 l-2.6 3 z" fill="#000"/>
</g>
<rect x="5" y="553" width="137" height="17" fill="#fff" opacity="0.62"/>
<text x="9.5" y="566.6" textLength="114.5" lengthAdjust="spacingAndGlyphs" >MACD 26; 12; 9 (DAX.I)</text><path d="M131.2 560.4 h5.2 l-2.6 3 z" fill="#000"/>
<rect x="1823.5" y="13.5" width="8" height="8" fill="#f1f5fb" stroke="#ccd5e3" stroke-width="1"/><rect x="1825.5" y="16.5" width="4" height="3" fill="#fff" stroke="#c6d0e0" stroke-width="1"/>
<rect x="1823.5" y="559.5" width="8" height="8" fill="#f1f5fb" stroke="#ccd5e3" stroke-width="1"/><rect x="1825.5" y="562.5" width="4" height="3" fill="#fff" stroke="#c6d0e0" stroke-width="1"/>
<path d="M1839 560 l7.5 7.5 M1846.5 560 l-7.5 7.5" stroke="#c0c9da" stroke-width="2.4" fill="none"/><path d="M1839 560 l7.5 7.5 M1846.5 560 l-7.5 7.5" stroke="#fff" stroke-width="0.9" fill="none"/>
<circle cx="1806" cy="17.9" r="6.6" fill="#dbe9f7" stroke="#5b7db3" stroke-width="1" stroke-dasharray="3.2 2" stroke-opacity="0.9"/><circle cx="1806" cy="17.9" r="6.6" fill="none" stroke="#9db4d8" stroke-width="1" stroke-opacity="0.6"/><path d="M1805.4 18.3 V12.3 A6.2 6.2 0 0 1 1811.8 18.3 Z" fill="#ee8a55"/><path d="M1805.9 12.6 V17.8 H1811.4" stroke="#d9521e" stroke-width="1" fill="none"/>
<rect x="8.5" y="410.5" width="120" height="124" fill="#fff" fill-opacity="0.86" stroke="#8c8c8c" stroke-width="1"/>
<text x="16.4" y="426" textLength="30.2" lengthAdjust="spacingAndGlyphs" font-weight="bold" >DAX.I</text>
<text x="18.6" y="439" textLength="65.2" lengthAdjust="spacingAndGlyphs" >08-máj.-2017</text>
<text x="19.6" y="452" textLength="26.1" lengthAdjust="spacingAndGlyphs" >Open</text><text x="72.8" y="452" textLength="47.6" lengthAdjust="spacingAndGlyphs" >12 758,28</text>
<text x="19.6" y="465" textLength="21.2" lengthAdjust="spacingAndGlyphs" >High</text><text x="72.8" y="465" textLength="47.6" lengthAdjust="spacingAndGlyphs" >12 761,94</text>
<text x="19.6" y="478" textLength="19" lengthAdjust="spacingAndGlyphs" >Low</text><text x="72.8" y="478" textLength="47.6" lengthAdjust="spacingAndGlyphs" >12 670,20</text>
<text x="19.6" y="491" textLength="26.1" lengthAdjust="spacingAndGlyphs" >Close</text><text x="72.8" y="491" textLength="47.6" lengthAdjust="spacingAndGlyphs" >12 677,95</text>
<text x="19.6" y="504" textLength="41.6" lengthAdjust="spacingAndGlyphs" >SMA 200</text><text x="72.8" y="504" textLength="47.6" lengthAdjust="spacingAndGlyphs" >11 232,54</text>
<text x="19.6" y="517" textLength="36.1" lengthAdjust="spacingAndGlyphs" fill="#00a030" >SMA 20</text><text x="72.8" y="517" textLength="47.6" lengthAdjust="spacingAndGlyphs" >12 325,36</text>
<text x="19.6" y="530" textLength="35.5" lengthAdjust="spacingAndGlyphs" fill="#f018f0" >SMA 30</text><text x="72.8" y="530" textLength="47.6" lengthAdjust="spacingAndGlyphs" >12 276,20</text>
<rect x="8.5" y="627.5" width="142" height="58.5" fill="#fff" fill-opacity="0.86" stroke="#8c8c8c" stroke-width="1"/>
<text x="16.3" y="642.5" textLength="126.6" lengthAdjust="spacingAndGlyphs" font-weight="bold" >MACD 26; 12; 9 (DAX.I)</text>
<text x="19.5" y="656" textLength="22.6" lengthAdjust="spacingAndGlyphs" fill="#2f86d6" >Base</text><text x="142.4" y="656" text-anchor="end" >150,23</text>
<text x="19.5" y="669" textLength="33" lengthAdjust="spacingAndGlyphs" fill="#e8701a" >Trigger</text><text x="142.4" y="669" text-anchor="end" >111,75</text>
<text x="19.5" y="682" textLength="47.6" lengthAdjust="spacingAndGlyphs" >Histogram</text><text x="142.4" y="682" text-anchor="end" >38,48</text>
<text x="2.3" y="698.8" textLength="90.4" lengthAdjust="spacingAndGlyphs" fill="#8e8e8e" font-size="9" >INDICATIVE PRICE</text>
<text x="102.3" y="698.8" textLength="70" lengthAdjust="spacingAndGlyphs" fill="#8e8e8e" font-size="9" >Time Zone: GMT</text>
</svg>
</body></html>
